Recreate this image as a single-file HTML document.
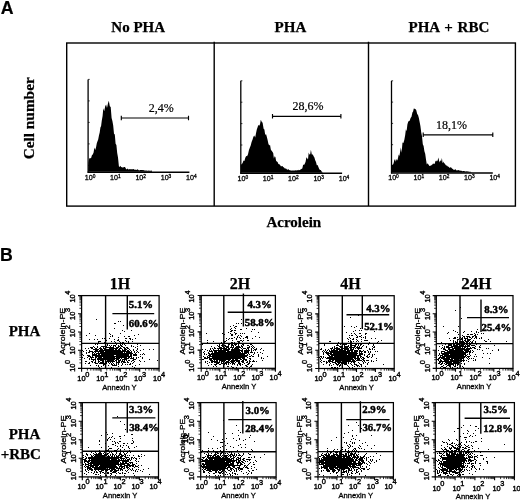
<!DOCTYPE html>
<html><head><meta charset="utf-8"><title>Figure</title>
<style>
html,body{margin:0;padding:0;background:#fff;}
body{width:520px;height:500px;overflow:hidden;}
svg{display:block;opacity:.999;}
.sb{font-family:"Liberation Serif",serif;font-weight:bold;fill:#000;stroke:#000;stroke-width:.25px;}
.pc{font-family:"Liberation Serif",serif;font-weight:bold;fill:#000;stroke:#000;stroke-width:.45px;}
.sr{font-family:"Liberation Serif",serif;fill:#000;stroke:#000;stroke-width:.2px;}
.ab{font-family:"Liberation Sans",sans-serif;font-weight:bold;fill:#000;stroke:#000;stroke-width:.2px;}
.ar{font-family:"Liberation Sans",sans-serif;fill:#000;}
</style></head><body>
<svg width="520" height="500" viewBox="0 0 520 500">
<rect width="520" height="500" fill="#fff"/>
<defs><filter id="b" x="-5%" y="-5%" width="110%" height="110%"><feGaussianBlur stdDeviation="0.38"/></filter></defs>
<text class="ab" x="0.7" y="14" font-size="17.7">A</text>
<text class="sb" x="138.2" y="32.1" font-size="15" text-anchor="middle">No PHA</text>
<text class="sb" x="290.4" y="32.1" font-size="15" text-anchor="middle">PHA</text>
<text class="sb" x="448.9" y="32.1" font-size="15" text-anchor="middle" word-spacing="1.1">PHA + RBC</text>
<text class="sb" font-size="15.3" text-anchor="middle" transform="translate(33.5,118.3) rotate(-90)">Cell number</text>
<text class="sb" x="293.8" y="227.1" font-size="15" text-anchor="middle">Acrolein</text>
<g fill="none" stroke="#000" stroke-width="1.4">
<rect x="66.7" y="43.0" width="448.7" height="163.1"/>
<path d="M214.2 41.8V206.1M368.5 41.8V206.1"/>
</g>
<path d="M88.1 171.8L88.4 162.8L89.3 158.3L90.2 158.3L91.1 158.0L92.0 155.1L92.8 154.4L93.6 152.4L94.4 147.4L95.2 150.1L96.0 147.4L96.8 143.3L97.5 141.2L98.2 139.5L99.0 135.3L99.7 132.5L100.4 127.5L101.1 126.1L101.8 120.6L102.6 116.1L103.3 108.2L104.2 111.2L105.2 106.3L106.1 104.6L107.0 108.0L107.9 103.8L108.8 100.7L109.8 106.3L110.7 106.9L111.6 118.0L112.4 120.9L113.2 125.5L114.0 133.8L114.8 134.4L115.6 143.7L116.4 144.9L117.2 152.9L118.0 157.4L118.9 166.2L119.7 167.0L120.4 165.7L121.2 167.2L122.0 167.1L122.8 167.8L123.5 167.2L124.2 166.9L125.0 167.1L125.8 168.4L126.5 169.5L127.2 168.8L128.0 168.7L128.8 169.7L129.6 169.1L130.4 169.2L131.2 169.3L132.0 169.2L132.8 169.3L133.6 169.0L134.4 169.7L135.2 169.6L136.0 170.0L136.8 169.7L137.6 169.3L138.4 169.9L139.2 170.4L140.0 170.0L140.8 169.9L141.6 169.9L142.4 170.0L143.2 170.2L144.0 170.1L144.8 170.7L145.6 170.4L146.4 170.5L147.2 170.8L148.0 170.8L148.8 170.6L149.6 170.7L150.4 170.8L151.2 170.7L152.0 170.5L152.0 171.8Z" fill="#000"/>
<path d="M88.1 79.4V172.8" fill="none" stroke="#000" stroke-width="1.3"/><path d="M87.6 172.3H189.4" fill="none" stroke="#000" stroke-width="1.5"/>
<path d="M88.1 79.4h1.6M88.1 100.9h1.6M88.1 122.4h1.6M88.1 143.9h1.6M88.1 165.4h1.6" stroke="#000" stroke-width="0.8" fill="none"/>
<text class="ar" x="84.8" y="179.7" font-size="7.4" textLength="10.6" lengthAdjust="spacingAndGlyphs" stroke="#000" stroke-width="0.3">10<tspan dy="-2.0" font-size="5">0</tspan></text>
<text class="ar" x="110.1" y="179.7" font-size="7.4" textLength="10.6" lengthAdjust="spacingAndGlyphs" stroke="#000" stroke-width="0.3">10<tspan dy="-2.0" font-size="5">1</tspan></text>
<text class="ar" x="135.4" y="179.7" font-size="7.4" textLength="10.6" lengthAdjust="spacingAndGlyphs" stroke="#000" stroke-width="0.3">10<tspan dy="-2.0" font-size="5">2</tspan></text>
<text class="ar" x="160.7" y="179.7" font-size="7.4" textLength="10.6" lengthAdjust="spacingAndGlyphs" stroke="#000" stroke-width="0.3">10<tspan dy="-2.0" font-size="5">3</tspan></text>
<text class="ar" x="186.0" y="179.7" font-size="7.4" textLength="10.6" lengthAdjust="spacingAndGlyphs" stroke="#000" stroke-width="0.3">10<tspan dy="-2.0" font-size="5">4</tspan></text>
<path d="M121.3 118.0H188.5M121.3 115.8v4.4M188.5 115.8v4.4" stroke="#000" stroke-width="1.15" fill="none"/>
<text class="sr" x="161.3" y="112.0" font-size="12" text-anchor="middle">2,4%</text>
<path d="M240.8 172.8L240.8 164.5L241.7 164.2L242.6 163.0L243.5 160.4L244.4 160.9L245.3 157.8L246.2 155.9L247.1 156.2L248.0 154.2L248.9 150.3L249.8 147.7L250.7 145.6L251.6 142.0L252.5 139.8L253.4 136.7L254.3 135.6L255.2 137.4L256.0 133.3L256.8 129.4L257.5 127.4L258.3 124.9L259.2 125.7L260.0 124.3L260.8 119.8L261.7 121.7L262.6 122.7L263.6 128.8L264.4 129.5L265.2 134.9L266.0 134.0L266.8 136.7L267.6 140.1L268.4 143.8L269.2 145.4L270.0 144.7L270.8 149.5L271.6 150.8L272.4 151.7L273.2 152.9L273.9 158.4L274.6 156.2L275.4 156.9L276.1 160.8L276.8 161.4L277.6 161.9L278.4 163.9L279.2 164.2L280.0 164.8L280.8 166.2L281.6 166.3L282.4 166.1L283.2 166.9L284.0 167.4L284.8 168.5L285.6 168.4L286.4 168.8L287.1 169.8L287.9 169.4L288.6 169.3L289.4 170.3L290.1 170.1L290.9 170.7L291.6 170.5L292.4 170.5L293.2 170.4L294.0 170.5L294.8 170.6L295.6 170.3L296.4 170.4L297.2 170.0L298.0 170.4L298.8 169.8L299.6 170.3L300.5 169.6L301.4 168.9L302.3 168.5L303.2 164.5L304.0 164.9L304.8 163.8L305.6 161.7L306.4 157.2L307.2 158.3L308.0 159.6L308.7 152.5L309.4 154.4L310.2 154.2L310.9 149.7L311.8 154.6L312.8 154.6L313.6 156.2L314.4 157.4L315.2 160.3L316.0 161.9L316.8 165.2L317.6 165.1L318.4 167.1L319.2 169.0L320.0 169.9L320.8 169.9L321.6 171.4L322.4 171.9L322.4 172.8Z" fill="#000"/>
<path d="M240.8 80.8V173.8" fill="none" stroke="#000" stroke-width="1.3"/><path d="M240.3 173.3H342.1" fill="none" stroke="#000" stroke-width="1.5"/>
<path d="M240.8 80.8h1.6M240.8 102.2h1.6M240.8 123.6h1.6M240.8 145.0h1.6M240.8 166.4h1.6" stroke="#000" stroke-width="0.8" fill="none"/>
<text class="ar" x="237.5" y="180.7" font-size="7.4" textLength="10.6" lengthAdjust="spacingAndGlyphs" stroke="#000" stroke-width="0.3">10<tspan dy="-2.0" font-size="5">0</tspan></text>
<text class="ar" x="262.8" y="180.7" font-size="7.4" textLength="10.6" lengthAdjust="spacingAndGlyphs" stroke="#000" stroke-width="0.3">10<tspan dy="-2.0" font-size="5">1</tspan></text>
<text class="ar" x="288.1" y="180.7" font-size="7.4" textLength="10.6" lengthAdjust="spacingAndGlyphs" stroke="#000" stroke-width="0.3">10<tspan dy="-2.0" font-size="5">2</tspan></text>
<text class="ar" x="313.4" y="180.7" font-size="7.4" textLength="10.6" lengthAdjust="spacingAndGlyphs" stroke="#000" stroke-width="0.3">10<tspan dy="-2.0" font-size="5">3</tspan></text>
<text class="ar" x="338.7" y="180.7" font-size="7.4" textLength="10.6" lengthAdjust="spacingAndGlyphs" stroke="#000" stroke-width="0.3">10<tspan dy="-2.0" font-size="5">4</tspan></text>
<path d="M272.5 116.3H340.9M272.5 114.1v4.4M340.9 114.1v4.4" stroke="#000" stroke-width="1.15" fill="none"/>
<text class="sr" x="308.0" y="109.6" font-size="12" text-anchor="middle">28,6%</text>
<path d="M391.5 172.4L391.3 165.2L392.1 164.5L392.8 165.1L393.6 163.2L394.4 159.8L395.1 159.3L395.8 161.7L396.6 159.1L397.3 160.5L398.0 158.1L398.7 154.6L399.4 156.1L400.2 151.2L400.9 147.4L401.6 152.7L402.5 142.4L403.4 143.1L404.3 140.0L405.2 135.1L405.9 129.3L406.6 131.2L407.4 124.4L408.1 122.0L408.8 121.0L409.7 120.8L410.6 117.9L411.5 116.7L412.4 112.4L413.1 111.6L413.8 108.6L414.6 108.7L415.3 108.9L416.2 110.1L417.2 114.0L418.0 115.0L418.8 117.8L419.6 121.7L420.4 126.1L421.2 132.2L422.0 136.3L422.8 144.2L423.6 146.0L424.4 151.2L425.2 153.8L426.0 159.6L426.8 164.5L427.7 163.3L428.6 164.7L429.5 166.1L430.4 165.9L431.1 164.8L431.8 165.6L432.6 164.0L433.3 163.6L434.0 164.1L434.7 163.7L435.4 161.2L436.2 160.6L436.9 161.5L437.6 160.5L438.5 157.4L439.3 162.6L440.2 160.3L441.1 161.4L441.9 158.0L442.6 163.2L443.4 161.6L444.1 163.5L444.8 163.3L445.6 165.0L446.4 165.4L447.2 165.8L448.0 166.8L448.8 166.8L449.6 167.9L450.4 167.3L451.2 167.4L452.0 168.4L452.8 169.1L453.6 169.8L454.4 169.9L455.2 169.1L456.0 170.0L456.8 170.5L457.6 170.2L458.4 170.1L459.2 170.5L460.0 170.4L460.8 170.8L461.6 170.8L462.4 171.2L463.2 171.1L464.0 171.0L464.8 171.3L465.6 171.4L466.4 171.3L467.2 171.4L468.0 171.3L468.8 171.8L469.6 171.8L470.4 171.7L471.2 171.9L471.2 172.4Z" fill="#000"/>
<path d="M391.5 80.8V173.4" fill="none" stroke="#000" stroke-width="1.3"/><path d="M391.0 172.9H492.8" fill="none" stroke="#000" stroke-width="1.5"/>
<path d="M391.5 80.8h1.6M391.5 102.1h1.6M391.5 123.4h1.6M391.5 144.7h1.6M391.5 166.0h1.6" stroke="#000" stroke-width="0.8" fill="none"/>
<text class="ar" x="388.2" y="180.3" font-size="7.4" textLength="10.6" lengthAdjust="spacingAndGlyphs" stroke="#000" stroke-width="0.3">10<tspan dy="-2.0" font-size="5">0</tspan></text>
<text class="ar" x="413.5" y="180.3" font-size="7.4" textLength="10.6" lengthAdjust="spacingAndGlyphs" stroke="#000" stroke-width="0.3">10<tspan dy="-2.0" font-size="5">1</tspan></text>
<text class="ar" x="438.8" y="180.3" font-size="7.4" textLength="10.6" lengthAdjust="spacingAndGlyphs" stroke="#000" stroke-width="0.3">10<tspan dy="-2.0" font-size="5">2</tspan></text>
<text class="ar" x="464.1" y="180.3" font-size="7.4" textLength="10.6" lengthAdjust="spacingAndGlyphs" stroke="#000" stroke-width="0.3">10<tspan dy="-2.0" font-size="5">3</tspan></text>
<text class="ar" x="489.4" y="180.3" font-size="7.4" textLength="10.6" lengthAdjust="spacingAndGlyphs" stroke="#000" stroke-width="0.3">10<tspan dy="-2.0" font-size="5">4</tspan></text>
<path d="M423.2 134.8H492.8M423.2 132.6v4.4M492.8 132.6v4.4" stroke="#000" stroke-width="1.15" fill="none"/>
<text class="sr" x="451.4" y="129.3" font-size="12" text-anchor="middle">18,1%</text>
<text class="ab" x="0" y="260.9" font-size="17.7">B</text>
<text class="sb" x="120.0" y="288.8" font-size="16" text-anchor="middle">1H</text>
<text class="sb" x="240.0" y="288.8" font-size="16" text-anchor="middle">2H</text>
<text class="sb" x="350.5" y="288.8" font-size="16" text-anchor="middle">4H</text>
<text class="sb" x="476.4" y="288.8" font-size="16" text-anchor="middle" textLength="30.2" lengthAdjust="spacingAndGlyphs">24H</text>
<text class="sb" x="24.5" y="336.2" font-size="15" text-anchor="middle">PHA</text>
<text class="sb" x="24.5" y="438.6" font-size="15" text-anchor="middle">PHA</text>
<text class="sb" x="20.8" y="459.0" font-size="15" text-anchor="middle">+RBC</text>
<path transform="translate(0,.5)" d="M0 0m96 319h1m21 2h1m1 0h1m-7 2h1m0 0h1m7 2h1m-10 3h1m7 2h1m8 0h1m-8 1h1m-36 2h1m19 0h1m10 0h1m-11 1h1m27 0h1m-53 1h1m8 0h1m16 0h1m21 0h1m-25 1h1m1 0h1m11 0h1m3 0h1m0 0h1m-12 1h1m-17 1h1m1 0h1m4 0h1m15 0h1m0 0h1m2 0h1m0 0h1m4 0h1m-47 1h1m4 0h1m2 0h1m16 0h1m3 0h1m11 0h1m1 0h1m-28 1h1m0 0h1m10 0h1m0 0h1m6 0h1m-28 1h1m0 0h1m0 0h1m10 0h1m2 0h1m4 0h1m6 0h1m1 0h1m3 0h1m-35 1h1m5 0h1m0 0h1m9 0h1m4 0h1m1 0h1m0 0h1m4 0h1m-36 1h1m2 0h1m2 0h1m5 0h1m4 0h1m2 0h1m1 0h1m3 0h1m3 0h1m15 0h1m-45 1h1m1 0h1m9 0h1m8 0h1m3 0h1m1 0h1m1 0h1m12 0h1m-31 1h1m1 0h1m1 0h1m1 0h1m0 0h1m0 0h1m2 0h1m1 0h1m0 0h1m3 0h1m5 0h1m8 0h1m-48 1h1m3 0h1m3 0h1m0 0h1m0 0h1m0 0h1m1 0h1m3 0h1m2 0h1m1 0h1m2 0h1m0 0h1m1 0h1m0 0h1m8 0h1m1 0h1m3 0h1m-48 1h1m0 0h1m0 0h1m1 0h1m2 0h1m2 0h1m2 0h1m1 0h1m0 0h1m0 0h1m0 0h1m0 0h1m0 0h1m0 0h1m0 0h1m0 0h1m2 0h1m0 0h1m0 0h1m1 0h1m2 0h1m0 0h1m1 0h1m0 0h1m7 0h1m-51 1h1m2 0h1m2 0h1m0 0h1m2 0h1m0 0h1m2 0h1m0 0h1m0 0h1m1 0h1m0 0h1m0 0h1m3 0h1m0 0h1m0 0h1m0 0h1m0 0h1m0 0h1m0 0h1m0 0h1m0 0h1m1 0h1m0 0h1m0 0h1m2 0h1m0 0h1m1 0h1m0 0h1m8 0h1m-45 1h1m0 0h1m0 0h1m0 0h1m0 0h1m0 0h1m1 0h1m0 0h1m0 0h1m1 0h1m0 0h1m0 0h1m0 0h1m0 0h1m0 0h1m0 0h1m0 0h1m0 0h1m0 0h1m1 0h1m0 0h1m1 0h1m0 0h1m2 0h1m1 0h1m0 0h1m0 0h1m2 0h1m3 0h1m3 0h1m5 0h1m5 0h1m3 0h1m-72 1h1m3 0h1m2 0h1m5 0h1m0 0h1m0 0h1m1 0h1m0 0h1m0 0h1m0 0h1m0 0h1m0 0h1m0 0h1m0 0h1m0 0h1m0 0h1m0 0h1m0 0h1m0 0h1m0 0h1m0 0h1m0 0h1m0 0h1m0 0h1m0 0h1m0 0h1m0 0h1m0 0h1m1 0h1m0 0h1m0 0h1m0 0h1m1 0h1m0 0h1m1 0h1m2 0h1m2 0h1m3 0h1m-58 1h1m5 0h1m0 0h1m0 0h1m0 0h1m1 0h1m0 0h1m0 0h1m0 0h1m0 0h1m0 0h1m0 0h1m0 0h1m0 0h1m0 0h1m1 0h1m0 0h1m0 0h1m0 0h1m0 0h1m0 0h1m0 0h1m0 0h1m0 0h1m0 0h1m0 0h1m0 0h1m0 0h1m0 0h1m0 0h1m0 0h1m0 0h1m0 0h1m0 0h1m0 0h1m0 0h1m0 0h1m0 0h1m0 0h1m0 0h1m1 0h1m2 0h1m2 0h1m-52 1h1m1 0h1m0 0h1m2 0h1m0 0h1m1 0h1m2 0h1m1 0h1m0 0h1m0 0h1m0 0h1m0 0h1m0 0h1m0 0h1m0 0h1m0 0h1m0 0h1m0 0h1m0 0h1m0 0h1m0 0h1m0 0h1m0 0h1m0 0h1m0 0h1m0 0h1m0 0h1m0 0h1m0 0h1m0 0h1m1 0h1m1 0h1m0 0h1m0 0h1m0 0h1m0 0h1m0 0h1m2 0h1m1 0h1m1 0h1m-53 1h1m5 0h1m1 0h1m1 0h1m0 0h1m0 0h1m0 0h1m0 0h1m0 0h1m0 0h1m0 0h1m0 0h1m0 0h1m0 0h1m0 0h1m0 0h1m0 0h1m0 0h1m0 0h1m0 0h1m0 0h1m0 0h1m0 0h1m0 0h1m0 0h1m0 0h1m0 0h1m0 0h1m0 0h1m0 0h1m0 0h1m0 0h1m0 0h1m0 0h1m0 0h1m0 0h1m0 0h1m0 0h1m0 0h1m0 0h1m2 0h1m7 0h1m-62 1h1m9 0h1m0 0h1m0 0h1m0 0h1m0 0h1m1 0h1m0 0h1m1 0h1m0 0h1m0 0h1m0 0h1m0 0h1m0 0h1m0 0h1m0 0h1m0 0h1m0 0h1m0 0h1m0 0h1m0 0h1m0 0h1m0 0h1m0 0h1m0 0h1m0 0h1m0 0h1m0 0h1m0 0h1m0 0h1m0 0h1m0 0h1m0 0h1m0 0h1m0 0h1m0 0h1m1 0h1m0 0h1m1 0h1m0 0h1m0 0h1m0 0h1m3 0h1m1 0h1m1 0h1m-62 1h1m3 0h1m0 0h1m0 0h1m2 0h1m0 0h1m0 0h1m0 0h1m0 0h1m0 0h1m0 0h1m0 0h1m0 0h1m0 0h1m0 0h1m0 0h1m0 0h1m0 0h1m0 0h1m0 0h1m0 0h1m0 0h1m0 0h1m0 0h1m0 0h1m0 0h1m2 0h1m0 0h1m0 0h1m0 0h1m0 0h1m0 0h1m0 0h1m0 0h1m0 0h1m0 0h1m0 0h1m0 0h1m0 0h1m1 0h1m0 0h1m1 0h1m0 0h1m0 0h1m0 0h1m-49 1h1m0 0h1m0 0h1m1 0h1m2 0h1m0 0h1m0 0h1m0 0h1m0 0h1m0 0h1m0 0h1m0 0h1m0 0h1m0 0h1m0 0h1m0 0h1m0 0h1m0 0h1m0 0h1m0 0h1m0 0h1m0 0h1m0 0h1m0 0h1m0 0h1m0 0h1m0 0h1m0 0h1m0 0h1m0 0h1m0 0h1m0 0h1m0 0h1m0 0h1m0 0h1m0 0h1m0 0h1m0 0h1m0 0h1m0 0h1m0 0h1m8 0h1m-59 1h1m4 0h1m2 0h1m0 0h1m0 0h1m0 0h1m1 0h1m0 0h1m1 0h1m0 0h1m0 0h1m0 0h1m1 0h1m0 0h1m0 0h1m0 0h1m0 0h1m0 0h1m0 0h1m0 0h1m0 0h1m0 0h1m0 0h1m0 0h1m1 0h1m0 0h1m0 0h1m0 0h1m0 0h1m0 0h1m0 0h1m0 0h1m0 0h1m0 0h1m0 0h1m1 0h1m0 0h1m1 0h1m1 0h1m2 0h1m1 0h1m3 0h1m-59 1h1m4 0h1m1 0h1m3 0h1m1 0h1m0 0h1m0 0h1m0 0h1m0 0h1m0 0h1m0 0h1m0 0h1m0 0h1m0 0h1m0 0h1m0 0h1m0 0h1m0 0h1m0 0h1m0 0h1m0 0h1m0 0h1m0 0h1m0 0h1m0 0h1m0 0h1m0 0h1m1 0h1m2 0h1m0 0h1m0 0h1m0 0h1m0 0h1m1 0h1m0 0h1m0 0h1m0 0h1m2 0h1m5 0h1m-54 1h1m1 0h1m0 0h1m0 0h1m0 0h1m0 0h1m1 0h1m0 0h1m0 0h1m0 0h1m0 0h1m0 0h1m0 0h1m0 0h1m0 0h1m0 0h1m0 0h1m0 0h1m0 0h1m0 0h1m0 0h1m0 0h1m0 0h1m0 0h1m1 0h1m0 0h1m0 0h1m1 0h1m1 0h1m0 0h1m0 0h1m0 0h1m0 0h1m6 0h1m0 0h1m0 0h1m13 0h1m-57 1h1m1 0h1m2 0h1m1 0h1m0 0h1m0 0h1m0 0h1m1 0h1m1 0h1m0 0h1m0 0h1m0 0h1m0 0h1m0 0h1m0 0h1m1 0h1m0 0h1m1 0h1m0 0h1m0 0h1m1 0h1m1 0h1m1 0h1m1 0h1m0 0h1m2 0h1m0 0h1m5 0h1m17 0h1m-73 1h1m0 0h1m4 0h1m0 0h1m2 0h1m2 0h1m0 0h1m2 0h1m0 0h1m1 0h1m0 0h1m0 0h1m0 0h1m0 0h1m0 0h1m0 0h1m0 0h1m0 0h1m0 0h1m1 0h1m1 0h1m0 0h1m1 0h1m0 0h1m0 0h1m0 0h1m2 0h1m3 0h1m2 0h1m5 0h1m3 0h1m-56 1h1m2 0h1m1 0h1m0 0h1m2 0h1m1 0h1m0 0h1m0 0h1m0 0h1m1 0h1m0 0h1m1 0h1m1 0h1m1 0h1m3 0h1m0 0h1m0 0h1m0 0h1m1 0h1m1 0h1m0 0h1m0 0h1m1 0h1m0 0h1m4 0h1m-49 1h1m2 0h1m0 0h1m5 0h1m0 0h1m0 0h1m1 0h1m0 0h1m0 0h1m0 0h1m0 0h1m0 0h1m0 0h1m0 0h1m2 0h1m1 0h1m1 0h1m2 0h1m1 0h1m3 0h1m7 0h1m1 0h1m-30 1h1m0 0h1m6 0h1m0 0h1m1 0h1m1 0h1m1 0h1m3 0h1m2 0h1m1 0h1m1 0h1m0 0h1m8 0h1m-50 1h1m5 0h1m1 0h1m4 0h1m4 0h1m3 0h1m0 0h1m0 0h1m0 0h1m0 0h1m4 0h1m13 0h1m-38 1h1m2 0h1m16 0h1m13 0h1m-34 1h1m11 0h1m22 0h1" stroke="#000" stroke-width="1.15" filter="url(#b)" fill="none"/>
<g fill="none" stroke="#000" stroke-width="1.25">
<rect x="81.6" y="295.6" width="77.5" height="72.8"/>
<path d="M105.6 295.6V368.4M81.6 343.4H159.1M127.3 295.6V329.6M112.4 313.6H154.2" stroke-width="1.4"/>
<path d="M81.6 368.4h-3.6M81.6 368.4v3.4M81.6 350.2h-3.6M101.0 368.4v3.4M81.6 332.0h-3.6M120.3 368.4v3.4M81.6 313.8h-3.6M139.7 368.4v3.4M81.6 295.6h-3.6M159.1 368.4v3.4" stroke-width="1.1"/>
<path d="M81.6 362.9h-2.2M87.4 368.4v2.2M81.6 359.7h-2.2M90.8 368.4v2.2M81.6 357.4h-2.2M93.3 368.4v2.2M81.6 355.7h-2.2M95.1 368.4v2.2M81.6 354.2h-2.2M96.7 368.4v2.2M81.6 353.0h-2.2M98.0 368.4v2.2M81.6 352.0h-2.2M99.1 368.4v2.2M81.6 351.0h-2.2M100.1 368.4v2.2M81.6 344.7h-2.2M106.8 368.4v2.2M81.6 341.5h-2.2M110.2 368.4v2.2M81.6 339.2h-2.2M112.6 368.4v2.2M81.6 337.5h-2.2M114.5 368.4v2.2M81.6 336.0h-2.2M116.1 368.4v2.2M81.6 334.8h-2.2M117.3 368.4v2.2M81.6 333.8h-2.2M118.5 368.4v2.2M81.6 332.8h-2.2M119.5 368.4v2.2M81.6 326.5h-2.2M126.2 368.4v2.2M81.6 323.3h-2.2M129.6 368.4v2.2M81.6 321.0h-2.2M132.0 368.4v2.2M81.6 319.3h-2.2M133.9 368.4v2.2M81.6 317.8h-2.2M135.4 368.4v2.2M81.6 316.6h-2.2M136.7 368.4v2.2M81.6 315.6h-2.2M137.8 368.4v2.2M81.6 314.6h-2.2M138.8 368.4v2.2M81.6 308.3h-2.2M145.6 368.4v2.2M81.6 305.1h-2.2M149.0 368.4v2.2M81.6 302.8h-2.2M151.4 368.4v2.2M81.6 301.1h-2.2M153.3 368.4v2.2M81.6 299.6h-2.2M154.8 368.4v2.2M81.6 298.4h-2.2M156.1 368.4v2.2M81.6 297.4h-2.2M157.2 368.4v2.2M81.6 296.4h-2.2M158.2 368.4v2.2" stroke-width="0.8"/>
</g>
<text class="ar" x="77.3" y="381.2" font-size="7.4" stroke="#000" stroke-width="0.4">10<tspan dy="-4.6" dx="-0.3">0</tspan></text>
<text class="ar" font-size="7.4" stroke="#000" stroke-width="0.4" transform="translate(74.8,371.8) rotate(-90)">10<tspan dy="-4.6" dx="-0.3">0</tspan></text>
<text class="ar" x="96.2" y="381.2" font-size="7.4" stroke="#000" stroke-width="0.4">10<tspan dy="-4.6" dx="-0.3">1</tspan></text>
<text class="ar" font-size="7.4" stroke="#000" stroke-width="0.4" transform="translate(74.8,354.5) rotate(-90)">10<tspan dy="-4.6" dx="-0.3">1</tspan></text>
<text class="ar" x="115.2" y="381.2" font-size="7.4" stroke="#000" stroke-width="0.4">10<tspan dy="-4.6" dx="-0.3">2</tspan></text>
<text class="ar" font-size="7.4" stroke="#000" stroke-width="0.4" transform="translate(74.8,337.2) rotate(-90)">10<tspan dy="-4.6" dx="-0.3">2</tspan></text>
<text class="ar" x="134.1" y="381.2" font-size="7.4" stroke="#000" stroke-width="0.4">10<tspan dy="-4.6" dx="-0.3">3</tspan></text>
<text class="ar" font-size="7.4" stroke="#000" stroke-width="0.4" transform="translate(74.8,319.9) rotate(-90)">10<tspan dy="-4.6" dx="-0.3">3</tspan></text>
<text class="ar" x="153.1" y="381.2" font-size="7.4" stroke="#000" stroke-width="0.4">10<tspan dy="-4.6" dx="-0.3">4</tspan></text>
<text class="ar" font-size="7.4" stroke="#000" stroke-width="0.4" transform="translate(74.8,302.6) rotate(-90)">10<tspan dy="-4.6" dx="-0.3">4</tspan></text>
<text class="ar" x="119.4" y="390.2" font-size="7.6" text-anchor="middle" stroke="#000" stroke-width="0.3">Annexin Y</text>
<text class="ar" font-size="7.6" text-anchor="middle" stroke="#000" stroke-width="0.3" textLength="47" lengthAdjust="spacingAndGlyphs" transform="translate(65.4,331.2) rotate(-90)">Acrolein-PE</text>
<text class="pc" x="141.0" y="308.1" font-size="10.8" text-anchor="middle">5.1%</text>
<text class="pc" x="143.6" y="327.0" font-size="10.8" text-anchor="middle">60.6%</text>
<path transform="translate(0,.5)" d="M0 0m241 319h1m-6 4h1m1 0h1m2 0h1m13 1h1m-23 1h1m9 0h1m-14 1h1m4 0h1m0 0h1m-3 1h1m-4 1h1m3 0h1m10 0h1m-17 1h1m9 0h1m0 0h1m10 0h1m1 0h1m-24 1h1m0 0h1m1 0h1m0 0h1m-6 1h1m0 0h1m19 0h1m-24 1h1m5 0h1m23 0h1m-53 1h1m15 0h1m7 0h1m4 0h1m0 0h1m3 0h1m1 0h1m1 0h1m-21 1h1m6 0h1m0 0h1m2 0h1m-5 1h1m0 0h1m5 0h1m1 0h1m-4 1h1m3 0h1m4 0h1m0 0h1m7 0h1m-22 1h1m2 0h1m1 0h1m5 0h1m0 0h1m0 0h1m11 0h1m-34 1h1m2 0h1m1 0h1m0 0h1m3 0h1m3 0h1m2 0h1m3 0h1m4 0h1m-25 1h1m7 0h1m-30 1h1m15 0h1m2 0h1m5 0h1m7 0h1m0 0h1m1 0h1m3 0h1m0 0h1m-36 1h1m10 0h1m0 0h1m11 0h1m0 0h1m0 0h1m2 0h1m-36 1h1m13 0h1m2 0h1m6 0h1m0 0h1m1 0h1m3 0h1m0 0h1m-30 1h1m2 0h1m1 0h1m7 0h1m3 0h1m4 0h1m0 0h1m3 0h1m21 0h1m-58 1h1m16 0h1m2 0h1m5 0h1m0 0h1m1 0h1m0 0h1m1 0h1m0 0h1m0 0h1m1 0h1m3 0h1m0 0h1m6 0h1m0 0h1m-35 1h1m1 0h1m1 0h1m0 0h1m1 0h1m0 0h1m2 0h1m2 0h1m0 0h1m0 0h1m1 0h1m2 0h1m2 0h1m1 0h1m3 0h1m0 0h1m3 0h1m-42 1h1m6 0h1m0 0h1m2 0h1m0 0h1m1 0h1m0 0h1m0 0h1m0 0h1m2 0h1m1 0h1m2 0h1m0 0h1m0 0h1m0 0h1m1 0h1m0 0h1m6 0h1m1 0h1m1 0h1m-40 1h1m4 0h1m0 0h1m0 0h1m2 0h1m1 0h1m0 0h1m0 0h1m1 0h1m0 0h1m0 0h1m0 0h1m1 0h1m0 0h1m0 0h1m0 0h1m0 0h1m0 0h1m1 0h1m4 0h1m0 0h1m0 0h1m2 0h1m1 0h1m-45 1h1m1 0h1m1 0h1m0 0h1m1 0h1m0 0h1m0 0h1m0 0h1m0 0h1m0 0h1m0 0h1m0 0h1m0 0h1m0 0h1m1 0h1m0 0h1m2 0h1m1 0h1m0 0h1m0 0h1m0 0h1m0 0h1m2 0h1m1 0h1m0 0h1m0 0h1m1 0h1m0 0h1m2 0h1m1 0h1m2 0h1m4 0h1m-60 1h1m2 0h1m4 0h1m2 0h1m4 0h1m1 0h1m0 0h1m2 0h1m0 0h1m0 0h1m0 0h1m0 0h1m0 0h1m1 0h1m0 0h1m0 0h1m0 0h1m0 0h1m0 0h1m0 0h1m0 0h1m0 0h1m2 0h1m3 0h1m1 0h1m2 0h1m2 0h1m0 0h1m0 0h1m3 0h1m-54 1h1m1 0h1m1 0h1m1 0h1m0 0h1m0 0h1m0 0h1m0 0h1m0 0h1m0 0h1m0 0h1m0 0h1m0 0h1m0 0h1m0 0h1m0 0h1m0 0h1m0 0h1m0 0h1m2 0h1m0 0h1m0 0h1m0 0h1m0 0h1m0 0h1m0 0h1m0 0h1m0 0h1m0 0h1m0 0h1m0 0h1m1 0h1m0 0h1m0 0h1m0 0h1m0 0h1m0 0h1m1 0h1m1 0h1m1 0h1m7 0h1m-60 1h1m4 0h1m0 0h1m0 0h1m0 0h1m1 0h1m0 0h1m0 0h1m1 0h1m0 0h1m0 0h1m0 0h1m0 0h1m0 0h1m0 0h1m0 0h1m1 0h1m0 0h1m0 0h1m0 0h1m0 0h1m0 0h1m0 0h1m0 0h1m0 0h1m0 0h1m0 0h1m0 0h1m0 0h1m1 0h1m0 0h1m1 0h1m0 0h1m0 0h1m0 0h1m0 0h1m2 0h1m-49 1h1m4 0h1m3 0h1m1 0h1m0 0h1m0 0h1m0 0h1m0 0h1m0 0h1m0 0h1m0 0h1m0 0h1m0 0h1m0 0h1m0 0h1m0 0h1m0 0h1m0 0h1m0 0h1m0 0h1m0 0h1m0 0h1m0 0h1m0 0h1m0 0h1m0 0h1m0 0h1m0 0h1m0 0h1m0 0h1m1 0h1m1 0h1m0 0h1m0 0h1m0 0h1m0 0h1m1 0h1m0 0h1m0 0h1m1 0h1m2 0h1m2 0h1m-57 1h1m3 0h1m0 0h1m1 0h1m0 0h1m0 0h1m0 0h1m0 0h1m0 0h1m0 0h1m0 0h1m0 0h1m0 0h1m0 0h1m0 0h1m0 0h1m0 0h1m0 0h1m0 0h1m0 0h1m0 0h1m0 0h1m0 0h1m0 0h1m0 0h1m0 0h1m0 0h1m0 0h1m0 0h1m0 0h1m0 0h1m0 0h1m0 0h1m0 0h1m0 0h1m0 0h1m0 0h1m0 0h1m0 0h1m1 0h1m5 0h1m7 0h1m-59 1h1m1 0h1m2 0h1m0 0h1m0 0h1m0 0h1m0 0h1m0 0h1m0 0h1m0 0h1m0 0h1m0 0h1m0 0h1m0 0h1m0 0h1m0 0h1m0 0h1m0 0h1m0 0h1m0 0h1m0 0h1m0 0h1m0 0h1m0 0h1m0 0h1m0 0h1m0 0h1m0 0h1m0 0h1m0 0h1m0 0h1m0 0h1m0 0h1m0 0h1m0 0h1m0 0h1m0 0h1m0 0h1m2 0h1m1 0h1m3 0h1m4 0h1m-51 1h1m0 0h1m0 0h1m1 0h1m0 0h1m0 0h1m0 0h1m0 0h1m0 0h1m0 0h1m0 0h1m0 0h1m0 0h1m0 0h1m0 0h1m0 0h1m0 0h1m0 0h1m0 0h1m0 0h1m0 0h1m0 0h1m0 0h1m0 0h1m0 0h1m0 0h1m0 0h1m0 0h1m0 0h1m0 0h1m0 0h1m0 0h1m0 0h1m0 0h1m0 0h1m0 0h1m0 0h1m0 0h1m0 0h1m3 0h1m6 0h1m-56 1h1m3 0h1m1 0h1m0 0h1m0 0h1m0 0h1m0 0h1m0 0h1m0 0h1m0 0h1m0 0h1m0 0h1m0 0h1m0 0h1m0 0h1m0 0h1m0 0h1m0 0h1m0 0h1m0 0h1m0 0h1m0 0h1m0 0h1m0 0h1m0 0h1m0 0h1m0 0h1m0 0h1m0 0h1m0 0h1m0 0h1m0 0h1m0 0h1m0 0h1m0 0h1m0 0h1m0 0h1m0 0h1m0 0h1m0 0h1m2 0h1m0 0h1m1 0h1m0 0h1m4 0h1m8 0h1m-64 1h1m0 0h1m1 0h1m0 0h1m0 0h1m2 0h1m0 0h1m0 0h1m0 0h1m0 0h1m0 0h1m0 0h1m0 0h1m0 0h1m0 0h1m0 0h1m0 0h1m0 0h1m0 0h1m0 0h1m0 0h1m0 0h1m0 0h1m0 0h1m0 0h1m0 0h1m0 0h1m0 0h1m0 0h1m0 0h1m0 0h1m0 0h1m0 0h1m0 0h1m0 0h1m0 0h1m0 0h1m0 0h1m2 0h1m13 0h1m-58 1h1m0 0h1m0 0h1m0 0h1m1 0h1m0 0h1m0 0h1m0 0h1m0 0h1m0 0h1m0 0h1m0 0h1m0 0h1m0 0h1m0 0h1m0 0h1m0 0h1m0 0h1m0 0h1m0 0h1m0 0h1m0 0h1m0 0h1m0 0h1m0 0h1m0 0h1m0 0h1m0 0h1m0 0h1m0 0h1m0 0h1m0 0h1m0 0h1m0 0h1m0 0h1m0 0h1m1 0h1m0 0h1m0 0h1m4 0h1m0 0h1m10 0h1m1 0h1m-62 1h1m0 0h1m5 0h1m0 0h1m0 0h1m1 0h1m0 0h1m0 0h1m0 0h1m0 0h1m0 0h1m0 0h1m0 0h1m0 0h1m0 0h1m0 0h1m0 0h1m0 0h1m0 0h1m0 0h1m0 0h1m0 0h1m0 0h1m1 0h1m0 0h1m1 0h1m0 0h1m0 0h1m2 0h1m0 0h1m1 0h1m0 0h1m0 0h1m0 0h1m3 0h1m-41 1h1m0 0h1m0 0h1m1 0h1m1 0h1m0 0h1m1 0h1m0 0h1m0 0h1m0 0h1m0 0h1m0 0h1m0 0h1m2 0h1m0 0h1m1 0h1m0 0h1m0 0h1m0 0h1m0 0h1m0 0h1m0 0h1m0 0h1m0 0h1m2 0h1m0 0h1m1 0h1m0 0h1m2 0h1m3 0h1m8 0h1m-58 1h1m1 0h1m3 0h1m0 0h1m0 0h1m0 0h1m0 0h1m0 0h1m0 0h1m1 0h1m1 0h1m0 0h1m1 0h1m1 0h1m0 0h1m0 0h1m1 0h1m0 0h1m0 0h1m0 0h1m0 0h1m1 0h1m0 0h1m0 0h1m0 0h1m1 0h1m0 0h1m0 0h1m3 0h1m1 0h1m0 0h1m1 0h1m0 0h1m0 0h1m1 0h1m-52 1h1m3 0h1m1 0h1m0 0h1m1 0h1m0 0h1m0 0h1m0 0h1m0 0h1m0 0h1m1 0h1m1 0h1m1 0h1m0 0h1m0 0h1m0 0h1m0 0h1m1 0h1m0 0h1m0 0h1m1 0h1m2 0h1m0 0h1m2 0h1m0 0h1m2 0h1m0 0h1m1 0h1m-43 1h1m8 0h1m0 0h1m0 0h1m2 0h1m0 0h1m1 0h1m0 0h1m0 0h1m1 0h1m1 0h1m1 0h1m0 0h1m0 0h1m3 0h1m0 0h1m0 0h1m3 0h1m3 0h1m0 0h1m-39 1h1m2 0h1m0 0h1m0 0h1m2 0h1m0 0h1m3 0h1m1 0h1m1 0h1m3 0h1m1 0h1m2 0h1m1 0h1m0 0h1m1 0h1m4 0h1m0 0h1m3 0h1m-45 1h1m6 0h1m7 0h1m13 0h1m2 0h1m4 0h1m0 0h1m4 0h1m-39 1h1m2 0h1m6 0h1m3 0h1m0 0h1m2 0h1m14 0h1m0 0h1m2 0h1m0 0h1m-20 1h1m0 0h1m2 0h1m5 0h1m6 0h1" stroke="#000" stroke-width="1.15" filter="url(#b)" fill="none"/>
<g fill="none" stroke="#000" stroke-width="1.25">
<rect x="201.2" y="295.5" width="74.2" height="72.8"/>
<path d="M223.8 295.5V368.3M201.2 343.4H275.4M243.4 293.5V326.5M227.7 312.2H271.5" stroke-width="1.4"/>
<path d="M201.2 368.3h-3.6M201.2 368.3v3.4M201.2 350.1h-3.6M219.8 368.3v3.4M201.2 331.9h-3.6M238.3 368.3v3.4M201.2 313.7h-3.6M256.9 368.3v3.4M201.2 295.5h-3.6M275.4 368.3v3.4" stroke-width="1.1"/>
<path d="M201.2 362.8h-2.2M206.8 368.3v2.2M201.2 359.6h-2.2M210.1 368.3v2.2M201.2 357.3h-2.2M212.4 368.3v2.2M201.2 355.6h-2.2M214.2 368.3v2.2M201.2 354.1h-2.2M215.6 368.3v2.2M201.2 352.9h-2.2M216.9 368.3v2.2M201.2 351.9h-2.2M218.0 368.3v2.2M201.2 350.9h-2.2M218.9 368.3v2.2M201.2 344.6h-2.2M225.3 368.3v2.2M201.2 341.4h-2.2M228.6 368.3v2.2M201.2 339.1h-2.2M230.9 368.3v2.2M201.2 337.4h-2.2M232.7 368.3v2.2M201.2 335.9h-2.2M234.2 368.3v2.2M201.2 334.7h-2.2M235.4 368.3v2.2M201.2 333.7h-2.2M236.5 368.3v2.2M201.2 332.7h-2.2M237.5 368.3v2.2M201.2 326.4h-2.2M243.9 368.3v2.2M201.2 323.2h-2.2M247.2 368.3v2.2M201.2 320.9h-2.2M249.5 368.3v2.2M201.2 319.2h-2.2M251.3 368.3v2.2M201.2 317.7h-2.2M252.7 368.3v2.2M201.2 316.5h-2.2M254.0 368.3v2.2M201.2 315.5h-2.2M255.1 368.3v2.2M201.2 314.5h-2.2M256.0 368.3v2.2M201.2 308.2h-2.2M262.4 368.3v2.2M201.2 305.0h-2.2M265.7 368.3v2.2M201.2 302.7h-2.2M268.0 368.3v2.2M201.2 301.0h-2.2M269.8 368.3v2.2M201.2 299.5h-2.2M271.3 368.3v2.2M201.2 298.3h-2.2M272.5 368.3v2.2M201.2 297.3h-2.2M273.6 368.3v2.2M201.2 296.3h-2.2M274.6 368.3v2.2" stroke-width="0.8"/>
</g>
<text class="ar" x="196.9" y="380.3" font-size="7.4" stroke="#000" stroke-width="0.4">10<tspan dy="-4.6" dx="-0.3">0</tspan></text>
<text class="ar" font-size="7.4" stroke="#000" stroke-width="0.4" transform="translate(194.4,371.7) rotate(-90)">10<tspan dy="-4.6" dx="-0.3">0</tspan></text>
<text class="ar" x="215.1" y="380.3" font-size="7.4" stroke="#000" stroke-width="0.4">10<tspan dy="-4.6" dx="-0.3">1</tspan></text>
<text class="ar" font-size="7.4" stroke="#000" stroke-width="0.4" transform="translate(194.4,354.4) rotate(-90)">10<tspan dy="-4.6" dx="-0.3">1</tspan></text>
<text class="ar" x="233.2" y="380.3" font-size="7.4" stroke="#000" stroke-width="0.4">10<tspan dy="-4.6" dx="-0.3">2</tspan></text>
<text class="ar" font-size="7.4" stroke="#000" stroke-width="0.4" transform="translate(194.4,337.1) rotate(-90)">10<tspan dy="-4.6" dx="-0.3">2</tspan></text>
<text class="ar" x="251.4" y="380.3" font-size="7.4" stroke="#000" stroke-width="0.4">10<tspan dy="-4.6" dx="-0.3">3</tspan></text>
<text class="ar" font-size="7.4" stroke="#000" stroke-width="0.4" transform="translate(194.4,319.8) rotate(-90)">10<tspan dy="-4.6" dx="-0.3">3</tspan></text>
<text class="ar" x="269.6" y="380.3" font-size="7.4" stroke="#000" stroke-width="0.4">10<tspan dy="-4.6" dx="-0.3">4</tspan></text>
<text class="ar" font-size="7.4" stroke="#000" stroke-width="0.4" transform="translate(194.4,302.5) rotate(-90)">10<tspan dy="-4.6" dx="-0.3">4</tspan></text>
<text class="ar" x="239.0" y="389.3" font-size="7.6" text-anchor="middle" stroke="#000" stroke-width="0.3">Annexin Y</text>
<text class="ar" font-size="7.6" text-anchor="middle" stroke="#000" stroke-width="0.3" textLength="47" lengthAdjust="spacingAndGlyphs" transform="translate(185.0,331.1) rotate(-90)">Acrolein-PE</text>
<text class="pc" x="259.6" y="308.0" font-size="10.8" text-anchor="middle">4.3%</text>
<text class="pc" x="259.7" y="326.1" font-size="10.8" text-anchor="middle">58.8%</text>
<path transform="translate(0,.5)" d="M0 0m358 315h1m-9 2h1m-7 9h1m6 0h1m4 0h1m-3 1h1m5 1h1m-6 2h1m3 0h1m1 0h1m-9 1h1m20 0h1m-29 1h1m4 1h1m2 0h1m4 0h1m0 0h1m4 0h1m0 0h1m-12 1h1m9 0h1m-17 1h1m1 0h1m0 0h1m3 0h1m4 0h1m-5 1h1m1 0h1m0 0h1m4 0h1m-17 1h1m6 0h1m0 0h1m3 0h1m1 0h1m1 0h1m-19 1h1m2 0h1m2 0h1m11 0h1m5 0h1m3 0h1m-28 1h1m3 0h1m0 0h1m2 0h1m4 0h1m-20 1h1m7 0h1m6 0h1m6 0h1m0 0h1m0 0h1m0 0h1m13 0h1m-53 1h1m0 0h1m17 0h1m1 0h1m0 0h1m1 0h1m2 0h1m1 0h1m2 0h1m16 0h1m-41 1h1m11 0h1m0 0h1m17 0h1m7 0h1m-50 1h1m4 0h1m4 0h1m0 0h1m2 0h1m4 0h1m0 0h1m0 0h1m0 0h1m5 0h1m1 0h1m0 0h1m3 0h1m1 0h1m1 0h1m10 0h1m-55 1h1m12 0h1m2 0h1m2 0h1m0 0h1m0 0h1m0 0h1m3 0h1m0 0h1m3 0h1m0 0h1m1 0h1m1 0h1m0 0h1m6 0h1m4 0h1m-50 1h1m11 0h1m0 0h1m0 0h1m3 0h1m1 0h1m3 0h1m1 0h1m0 0h1m0 0h1m0 0h1m0 0h1m0 0h1m2 0h1m1 0h1m2 0h1m9 0h1m-40 1h1m4 0h1m0 0h1m0 0h1m2 0h1m0 0h1m0 0h1m0 0h1m0 0h1m1 0h1m0 0h1m2 0h1m0 0h1m1 0h1m1 0h1m2 0h1m3 0h1m5 0h1m1 0h1m-43 1h1m1 0h1m1 0h1m0 0h1m2 0h1m0 0h1m2 0h1m0 0h1m0 0h1m0 0h1m1 0h1m0 0h1m0 0h1m0 0h1m0 0h1m0 0h1m1 0h1m0 0h1m0 0h1m0 0h1m1 0h1m4 0h1m6 0h1m0 0h1m-54 1h1m8 0h1m0 0h1m0 0h1m1 0h1m0 0h1m0 0h1m0 0h1m0 0h1m0 0h1m1 0h1m0 0h1m0 0h1m0 0h1m0 0h1m0 0h1m0 0h1m0 0h1m1 0h1m0 0h1m1 0h1m1 0h1m1 0h1m0 0h1m0 0h1m0 0h1m0 0h1m7 0h1m2 0h1m-53 1h1m0 0h1m3 0h1m2 0h1m2 0h1m1 0h1m0 0h1m1 0h1m0 0h1m0 0h1m0 0h1m0 0h1m0 0h1m0 0h1m1 0h1m0 0h1m0 0h1m0 0h1m0 0h1m1 0h1m0 0h1m0 0h1m0 0h1m4 0h1m10 0h1m0 0h1m1 0h1m1 0h1m-52 1h1m1 0h1m1 0h1m1 0h1m1 0h1m0 0h1m0 0h1m0 0h1m0 0h1m0 0h1m0 0h1m1 0h1m0 0h1m0 0h1m0 0h1m0 0h1m0 0h1m0 0h1m1 0h1m0 0h1m0 0h1m0 0h1m0 0h1m0 0h1m1 0h1m0 0h1m0 0h1m0 0h1m1 0h1m0 0h1m2 0h1m3 0h1m-46 1h1m1 0h1m1 0h1m2 0h1m0 0h1m0 0h1m0 0h1m0 0h1m0 0h1m0 0h1m0 0h1m0 0h1m0 0h1m0 0h1m0 0h1m0 0h1m0 0h1m0 0h1m0 0h1m0 0h1m0 0h1m0 0h1m0 0h1m0 0h1m1 0h1m0 0h1m1 0h1m0 0h1m0 0h1m0 0h1m1 0h1m0 0h1m0 0h1m0 0h1m1 0h1m0 0h1m2 0h1m1 0h1m4 0h1m1 0h1m-55 1h1m1 0h1m0 0h1m0 0h1m0 0h1m1 0h1m0 0h1m0 0h1m0 0h1m0 0h1m0 0h1m0 0h1m0 0h1m0 0h1m0 0h1m0 0h1m0 0h1m0 0h1m0 0h1m0 0h1m0 0h1m0 0h1m0 0h1m0 0h1m0 0h1m0 0h1m0 0h1m0 0h1m0 0h1m0 0h1m0 0h1m0 0h1m2 0h1m1 0h1m2 0h1m0 0h1m2 0h1m1 0h1m-48 1h1m2 0h1m0 0h1m0 0h1m0 0h1m0 0h1m0 0h1m1 0h1m0 0h1m0 0h1m0 0h1m0 0h1m0 0h1m0 0h1m0 0h1m0 0h1m0 0h1m0 0h1m0 0h1m0 0h1m0 0h1m0 0h1m0 0h1m0 0h1m0 0h1m0 0h1m0 0h1m0 0h1m0 0h1m0 0h1m0 0h1m0 0h1m1 0h1m0 0h1m0 0h1m0 0h1m6 0h1m-47 1h1m3 0h1m0 0h1m1 0h1m0 0h1m0 0h1m0 0h1m0 0h1m0 0h1m0 0h1m0 0h1m0 0h1m0 0h1m0 0h1m0 0h1m0 0h1m0 0h1m0 0h1m0 0h1m0 0h1m1 0h1m0 0h1m0 0h1m0 0h1m0 0h1m0 0h1m0 0h1m0 0h1m0 0h1m2 0h1m0 0h1m0 0h1m0 0h1m1 0h1m3 0h1m0 0h1m2 0h1m1 0h1m-47 1h1m0 0h1m1 0h1m0 0h1m0 0h1m0 0h1m0 0h1m0 0h1m0 0h1m0 0h1m0 0h1m0 0h1m0 0h1m0 0h1m0 0h1m0 0h1m0 0h1m0 0h1m0 0h1m0 0h1m0 0h1m0 0h1m0 0h1m0 0h1m0 0h1m0 0h1m0 0h1m0 0h1m0 0h1m0 0h1m0 0h1m0 0h1m3 0h1m2 0h1m4 0h1m-53 1h1m0 0h1m1 0h1m5 0h1m0 0h1m0 0h1m0 0h1m1 0h1m0 0h1m0 0h1m0 0h1m0 0h1m0 0h1m0 0h1m0 0h1m0 0h1m0 0h1m0 0h1m0 0h1m0 0h1m0 0h1m0 0h1m0 0h1m0 0h1m0 0h1m0 0h1m0 0h1m0 0h1m0 0h1m1 0h1m0 0h1m1 0h1m0 0h1m4 0h1m0 0h1m1 0h1m2 0h1m-54 1h1m1 0h1m1 0h1m1 0h1m1 0h1m0 0h1m0 0h1m0 0h1m0 0h1m0 0h1m0 0h1m0 0h1m0 0h1m0 0h1m0 0h1m0 0h1m0 0h1m0 0h1m0 0h1m0 0h1m0 0h1m0 0h1m0 0h1m0 0h1m0 0h1m0 0h1m0 0h1m0 0h1m0 0h1m0 0h1m0 0h1m0 0h1m0 0h1m1 0h1m0 0h1m1 0h1m1 0h1m0 0h1m3 0h1m0 0h1m2 0h1m-52 1h1m1 0h1m3 0h1m0 0h1m0 0h1m0 0h1m0 0h1m0 0h1m0 0h1m0 0h1m0 0h1m0 0h1m0 0h1m0 0h1m0 0h1m0 0h1m0 0h1m0 0h1m0 0h1m0 0h1m0 0h1m0 0h1m0 0h1m0 0h1m0 0h1m0 0h1m0 0h1m0 0h1m0 0h1m1 0h1m0 0h1m0 0h1m0 0h1m0 0h1m0 0h1m1 0h1m1 0h1m0 0h1m11 0h1m-57 1h1m8 0h1m0 0h1m0 0h1m0 0h1m0 0h1m0 0h1m0 0h1m0 0h1m0 0h1m0 0h1m0 0h1m0 0h1m0 0h1m0 0h1m0 0h1m0 0h1m0 0h1m0 0h1m0 0h1m0 0h1m0 0h1m0 0h1m0 0h1m0 0h1m0 0h1m1 0h1m1 0h1m0 0h1m0 0h1m2 0h1m0 0h1m-43 1h1m6 0h1m0 0h1m0 0h1m1 0h1m0 0h1m1 0h1m0 0h1m0 0h1m0 0h1m0 0h1m0 0h1m0 0h1m0 0h1m0 0h1m0 0h1m0 0h1m0 0h1m0 0h1m0 0h1m0 0h1m0 0h1m1 0h1m0 0h1m0 0h1m1 0h1m0 0h1m0 0h1m0 0h1m0 0h1m0 0h1m1 0h1m0 0h1m1 0h1m0 0h1m0 0h1m2 0h1m4 0h1m-57 1h1m2 0h1m0 0h1m1 0h1m1 0h1m0 0h1m0 0h1m0 0h1m0 0h1m2 0h1m0 0h1m0 0h1m0 0h1m0 0h1m0 0h1m1 0h1m0 0h1m0 0h1m0 0h1m0 0h1m0 0h1m0 0h1m0 0h1m0 0h1m0 0h1m0 0h1m0 0h1m0 0h1m0 0h1m6 0h1m1 0h1m6 0h1m1 0h1m-53 1h1m4 0h1m0 0h1m1 0h1m2 0h1m0 0h1m0 0h1m0 0h1m1 0h1m0 0h1m0 0h1m0 0h1m0 0h1m0 0h1m0 0h1m0 0h1m0 0h1m0 0h1m1 0h1m2 0h1m1 0h1m0 0h1m3 0h1m4 0h1m1 0h1m2 0h1m-43 1h1m3 0h1m4 0h1m0 0h1m1 0h1m0 0h1m1 0h1m0 0h1m0 0h1m0 0h1m0 0h1m0 0h1m1 0h1m1 0h1m3 0h1m4 0h1m3 0h1m3 0h1m-45 1h1m5 0h1m3 0h1m2 0h1m0 0h1m0 0h1m1 0h1m3 0h1m0 0h1m0 0h1m4 0h1m2 0h1m0 0h1m0 0h1m3 0h1m0 0h1m5 0h1m15 0h1m-55 1h1m1 0h1m5 0h1m1 0h1m0 0h1m6 0h1m4 0h1m3 0h1m0 0h1m0 0h1m2 0h1m-23 1h1m8 0h1m5 0h1m2 0h1m1 0h1m1 0h1m3 0h1m-35 1h1m0 0h1m1 0h1m0 0h1m1 0h1m11 0h1m2 0h1" stroke="#000" stroke-width="1.15" filter="url(#b)" fill="none"/>
<g fill="none" stroke="#000" stroke-width="1.25">
<rect x="318.8" y="295.7" width="75.4" height="72.8"/>
<path d="M342.3 295.7V368.5M318.8 343.4H394.2M362.3 295.7V329.0M346.5 314.7H389.2" stroke-width="1.4"/>
<path d="M318.8 368.5h-3.6M318.8 368.5v3.4M318.8 350.3h-3.6M337.7 368.5v3.4M318.8 332.1h-3.6M356.5 368.5v3.4M318.8 313.9h-3.6M375.4 368.5v3.4M318.8 295.7h-3.6M394.2 368.5v3.4" stroke-width="1.1"/>
<path d="M318.8 363.0h-2.2M324.5 368.5v2.2M318.8 359.8h-2.2M327.8 368.5v2.2M318.8 357.5h-2.2M330.1 368.5v2.2M318.8 355.8h-2.2M332.0 368.5v2.2M318.8 354.3h-2.2M333.5 368.5v2.2M318.8 353.1h-2.2M334.7 368.5v2.2M318.8 352.1h-2.2M335.8 368.5v2.2M318.8 351.1h-2.2M336.8 368.5v2.2M318.8 344.8h-2.2M343.3 368.5v2.2M318.8 341.6h-2.2M346.6 368.5v2.2M318.8 339.3h-2.2M349.0 368.5v2.2M318.8 337.6h-2.2M350.8 368.5v2.2M318.8 336.1h-2.2M352.3 368.5v2.2M318.8 334.9h-2.2M353.6 368.5v2.2M318.8 333.9h-2.2M354.7 368.5v2.2M318.8 332.9h-2.2M355.6 368.5v2.2M318.8 326.6h-2.2M362.2 368.5v2.2M318.8 323.4h-2.2M365.5 368.5v2.2M318.8 321.1h-2.2M367.8 368.5v2.2M318.8 319.4h-2.2M369.7 368.5v2.2M318.8 317.9h-2.2M371.2 368.5v2.2M318.8 316.7h-2.2M372.4 368.5v2.2M318.8 315.7h-2.2M373.5 368.5v2.2M318.8 314.7h-2.2M374.5 368.5v2.2M318.8 308.4h-2.2M381.0 368.5v2.2M318.8 305.2h-2.2M384.3 368.5v2.2M318.8 302.9h-2.2M386.7 368.5v2.2M318.8 301.2h-2.2M388.5 368.5v2.2M318.8 299.7h-2.2M390.0 368.5v2.2M318.8 298.5h-2.2M391.3 368.5v2.2M318.8 297.5h-2.2M392.4 368.5v2.2M318.8 296.5h-2.2M393.3 368.5v2.2" stroke-width="0.8"/>
</g>
<text class="ar" x="314.5" y="381.1" font-size="7.4" stroke="#000" stroke-width="0.4">10<tspan dy="-4.6" dx="-0.3">0</tspan></text>
<text class="ar" font-size="7.4" stroke="#000" stroke-width="0.4" transform="translate(312.0,371.9) rotate(-90)">10<tspan dy="-4.6" dx="-0.3">0</tspan></text>
<text class="ar" x="333.0" y="381.1" font-size="7.4" stroke="#000" stroke-width="0.4">10<tspan dy="-4.6" dx="-0.3">1</tspan></text>
<text class="ar" font-size="7.4" stroke="#000" stroke-width="0.4" transform="translate(312.0,354.6) rotate(-90)">10<tspan dy="-4.6" dx="-0.3">1</tspan></text>
<text class="ar" x="351.5" y="381.1" font-size="7.4" stroke="#000" stroke-width="0.4">10<tspan dy="-4.6" dx="-0.3">2</tspan></text>
<text class="ar" font-size="7.4" stroke="#000" stroke-width="0.4" transform="translate(312.0,337.3) rotate(-90)">10<tspan dy="-4.6" dx="-0.3">2</tspan></text>
<text class="ar" x="370.0" y="381.1" font-size="7.4" stroke="#000" stroke-width="0.4">10<tspan dy="-4.6" dx="-0.3">3</tspan></text>
<text class="ar" font-size="7.4" stroke="#000" stroke-width="0.4" transform="translate(312.0,320.0) rotate(-90)">10<tspan dy="-4.6" dx="-0.3">3</tspan></text>
<text class="ar" x="388.5" y="381.1" font-size="7.4" stroke="#000" stroke-width="0.4">10<tspan dy="-4.6" dx="-0.3">4</tspan></text>
<text class="ar" font-size="7.4" stroke="#000" stroke-width="0.4" transform="translate(312.0,302.7) rotate(-90)">10<tspan dy="-4.6" dx="-0.3">4</tspan></text>
<text class="ar" x="356.6" y="390.3" font-size="7.6" text-anchor="middle" stroke="#000" stroke-width="0.3">Annexin Y</text>
<text class="ar" font-size="7.6" text-anchor="middle" stroke="#000" stroke-width="0.3" textLength="47" lengthAdjust="spacingAndGlyphs" transform="translate(302.6,331.3) rotate(-90)">Acrolein-PE</text>
<text class="pc" x="378.3" y="311.6" font-size="10.8" text-anchor="middle">4.3%</text>
<text class="pc" x="379.0" y="329.9" font-size="10.8" text-anchor="middle">52.1%</text>
<path transform="translate(0,.5)" d="M0 0m460 307h1m-6 3h1m5 8h1m-19 8h1m14 0h1m18 3h1m-25 1h1m1 1h1m8 0h1m6 0h1m4 0h1m-29 1h1m8 0h1m5 0h1m12 0h1m1 0h1m-32 1h1m26 0h1m6 0h1m1 0h1m-26 1h1m8 0h1m0 0h1m1 0h1m0 0h1m0 0h1m2 0h1m1 0h1m-16 1h1m11 0h1m0 0h1m-13 1h1m0 0h1m1 0h1m0 0h1m0 0h1m0 0h1m2 0h1m0 0h1m1 0h1m0 0h1m-23 1h1m0 0h1m1 0h1m2 0h1m1 0h1m1 0h1m2 0h1m1 0h1m0 0h1m1 0h1m2 0h1m0 0h1m4 0h1m-33 1h1m3 0h1m0 0h1m0 0h1m3 0h1m1 0h1m0 0h1m1 0h1m0 0h1m0 0h1m0 0h1m3 0h1m2 0h1m1 0h1m2 0h1m1 0h1m-25 1h1m0 0h1m1 0h1m0 0h1m0 0h1m2 0h1m1 0h1m0 0h1m0 0h1m0 0h1m17 0h1m-39 1h1m2 0h1m3 0h1m4 0h1m1 0h1m0 0h1m1 0h1m0 0h1m0 0h1m3 0h1m10 0h1m-32 1h1m1 0h1m1 0h1m1 0h1m0 0h1m0 0h1m0 0h1m0 0h1m1 0h1m0 0h1m0 0h1m0 0h1m1 0h1m1 0h1m2 0h1m9 0h1m0 0h1m3 0h1m15 0h1m-66 1h1m11 0h1m1 0h1m0 0h1m0 0h1m1 0h1m0 0h1m0 0h1m0 0h1m0 0h1m0 0h1m1 0h1m0 0h1m1 0h1m1 0h1m0 0h1m2 0h1m-31 1h1m4 0h1m2 0h1m1 0h1m1 0h1m0 0h1m0 0h1m1 0h1m0 0h1m0 0h1m1 0h1m0 0h1m0 0h1m8 0h1m1 0h1m2 0h1m16 0h1m-54 1h1m2 0h1m0 0h1m0 0h1m0 0h1m1 0h1m0 0h1m1 0h1m0 0h1m0 0h1m0 0h1m1 0h1m0 0h1m0 0h1m0 0h1m1 0h1m0 0h1m1 0h1m0 0h1m5 0h1m-35 1h1m5 0h1m0 0h1m0 0h1m0 0h1m1 0h1m0 0h1m0 0h1m0 0h1m0 0h1m1 0h1m0 0h1m0 0h1m0 0h1m0 0h1m1 0h1m1 0h1m0 0h1m0 0h1m1 0h1m0 0h1m0 0h1m0 0h1m5 0h1m13 0h1m-56 1h1m4 0h1m1 0h1m0 0h1m0 0h1m2 0h1m0 0h1m0 0h1m0 0h1m0 0h1m0 0h1m0 0h1m0 0h1m0 0h1m0 0h1m0 0h1m0 0h1m0 0h1m0 0h1m0 0h1m0 0h1m0 0h1m0 0h1m0 0h1m5 0h1m3 0h1m-38 1h1m1 0h1m1 0h1m0 0h1m0 0h1m0 0h1m0 0h1m0 0h1m0 0h1m1 0h1m0 0h1m0 0h1m0 0h1m0 0h1m0 0h1m0 0h1m1 0h1m1 0h1m0 0h1m1 0h1m2 0h1m1 0h1m0 0h1m0 0h1m4 0h1m0 0h1m-40 1h1m1 0h1m0 0h1m3 0h1m0 0h1m2 0h1m0 0h1m0 0h1m0 0h1m0 0h1m0 0h1m0 0h1m0 0h1m0 0h1m0 0h1m0 0h1m0 0h1m0 0h1m1 0h1m0 0h1m0 0h1m0 0h1m0 0h1m0 0h1m2 0h1m0 0h1m10 0h1m1 0h1m-46 1h1m0 0h1m0 0h1m2 0h1m0 0h1m0 0h1m0 0h1m0 0h1m0 0h1m1 0h1m0 0h1m0 0h1m0 0h1m0 0h1m0 0h1m0 0h1m0 0h1m0 0h1m0 0h1m0 0h1m0 0h1m0 0h1m0 0h1m0 0h1m7 0h1m1 0h1m18 0h1m-61 1h1m6 0h1m0 0h1m0 0h1m1 0h1m0 0h1m0 0h1m0 0h1m0 0h1m0 0h1m0 0h1m0 0h1m0 0h1m0 0h1m0 0h1m0 0h1m0 0h1m0 0h1m1 0h1m0 0h1m0 0h1m0 0h1m0 0h1m1 0h1m1 0h1m9 0h1m9 0h1m5 0h1m-58 1h1m0 0h1m0 0h1m0 0h1m2 0h1m0 0h1m0 0h1m0 0h1m0 0h1m0 0h1m0 0h1m0 0h1m0 0h1m0 0h1m0 0h1m0 0h1m0 0h1m0 0h1m0 0h1m0 0h1m0 0h1m1 0h1m0 0h1m0 0h1m0 0h1m0 0h1m0 0h1m2 0h1m-33 1h1m2 0h1m0 0h1m0 0h1m0 0h1m0 0h1m0 0h1m0 0h1m0 0h1m0 0h1m0 0h1m0 0h1m0 0h1m0 0h1m0 0h1m0 0h1m0 0h1m0 0h1m0 0h1m0 0h1m0 0h1m0 0h1m0 0h1m0 0h1m0 0h1m1 0h1m0 0h1m1 0h1m-34 1h1m1 0h1m0 0h1m0 0h1m0 0h1m0 0h1m0 0h1m0 0h1m0 0h1m0 0h1m0 0h1m0 0h1m0 0h1m0 0h1m0 0h1m0 0h1m0 0h1m0 0h1m0 0h1m0 0h1m0 0h1m0 0h1m0 0h1m0 0h1m0 0h1m0 0h1m3 0h1m13 0h1m3 0h1m2 0h1m-52 1h1m2 0h1m0 0h1m0 0h1m0 0h1m0 0h1m0 0h1m0 0h1m1 0h1m0 0h1m0 0h1m0 0h1m0 0h1m0 0h1m0 0h1m0 0h1m0 0h1m0 0h1m0 0h1m0 0h1m0 0h1m0 0h1m0 0h1m0 0h1m1 0h1m1 0h1m5 0h1m-38 1h1m1 0h1m0 0h1m0 0h1m1 0h1m0 0h1m0 0h1m0 0h1m0 0h1m0 0h1m0 0h1m0 0h1m0 0h1m0 0h1m0 0h1m0 0h1m0 0h1m0 0h1m0 0h1m0 0h1m0 0h1m0 0h1m0 0h1m0 0h1m1 0h1m0 0h1m3 0h1m-31 1h1m1 0h1m0 0h1m0 0h1m0 0h1m0 0h1m0 0h1m0 0h1m0 0h1m0 0h1m0 0h1m0 0h1m0 0h1m0 0h1m0 0h1m0 0h1m0 0h1m0 0h1m0 0h1m0 0h1m0 0h1m0 0h1m0 0h1m0 0h1m0 0h1m1 0h1m0 0h1m0 0h1m4 0h1m1 0h1m-38 1h1m0 0h1m0 0h1m0 0h1m0 0h1m0 0h1m1 0h1m0 0h1m0 0h1m0 0h1m0 0h1m0 0h1m0 0h1m0 0h1m0 0h1m0 0h1m0 0h1m0 0h1m0 0h1m0 0h1m0 0h1m0 0h1m0 0h1m0 0h1m0 0h1m1 0h1m1 0h1m13 0h1m-45 1h1m0 0h1m1 0h1m0 0h1m0 0h1m0 0h1m0 0h1m0 0h1m0 0h1m0 0h1m0 0h1m1 0h1m0 0h1m0 0h1m0 0h1m0 0h1m0 0h1m0 0h1m0 0h1m0 0h1m0 0h1m0 0h1m0 0h1m0 0h1m3 0h1m1 0h1m1 0h1m1 0h1m15 0h1m-53 1h1m0 0h1m1 0h1m2 0h1m0 0h1m0 0h1m0 0h1m0 0h1m0 0h1m0 0h1m0 0h1m0 0h1m0 0h1m1 0h1m0 0h1m0 0h1m0 0h1m0 0h1m1 0h1m0 0h1m1 0h1m4 0h1m6 0h1m-38 1h1m1 0h1m0 0h1m2 0h1m0 0h1m0 0h1m0 0h1m0 0h1m1 0h1m0 0h1m0 0h1m0 0h1m0 0h1m0 0h1m0 0h1m0 0h1m0 0h1m0 0h1m0 0h1m0 0h1m0 0h1m0 0h1m0 0h1m1 0h1m6 0h1m1 0h1m-37 1h1m0 0h1m0 0h1m0 0h1m0 0h1m0 0h1m0 0h1m0 0h1m0 0h1m0 0h1m0 0h1m0 0h1m0 0h1m0 0h1m0 0h1m0 0h1m0 0h1m0 0h1m0 0h1m0 0h1m1 0h1m0 0h1m1 0h1m4 0h1m-30 1h1m0 0h1m1 0h1m2 0h1m0 0h1m0 0h1m0 0h1m0 0h1m0 0h1m0 0h1m1 0h1m0 0h1m0 0h1m0 0h1m0 0h1m0 0h1m0 0h1m-22 1h1m0 0h1m1 0h1m0 0h1m1 0h1m1 0h1m0 0h1m0 0h1m0 0h1m0 0h1m0 0h1m0 0h1m0 0h1m0 0h1m0 0h1m0 0h1m0 0h1m0 0h1m2 0h1m2 0h1m24 0h1m-50 1h1m0 0h1m3 0h1m0 0h1m1 0h1m0 0h1m0 0h1m0 0h1m0 0h1m0 0h1m1 0h1m1 0h1m0 0h1m5 0h1m-22 1h1m3 0h1m0 0h1m0 0h1m0 0h1m2 0h1m1 0h1m1 0h1m2 0h1m-20 1h1m0 0h1m3 0h1m2 0h1m0 0h1m3 0h1m0 0h1m4 0h1m1 0h1m-23 1h1m2 0h1m0 0h1m0 0h1m4 0h1m1 0h1m4 0h1m5 0h1" stroke="#000" stroke-width="1.15" filter="url(#b)" fill="none"/>
<g fill="none" stroke="#000" stroke-width="1.25">
<rect x="436.3" y="295.6" width="76.7" height="72.8"/>
<path d="M460.0 295.6V368.4M436.3 343.6H513.0M481.0 299.4V332.0M467.0 317.6H509.0" stroke-width="1.4"/>
<path d="M436.3 368.4h-3.6M436.3 368.4v3.4M436.3 350.2h-3.6M455.5 368.4v3.4M436.3 332.0h-3.6M474.7 368.4v3.4M436.3 313.8h-3.6M493.8 368.4v3.4M436.3 295.6h-3.6M513.0 368.4v3.4" stroke-width="1.1"/>
<path d="M436.3 362.9h-2.2M442.1 368.4v2.2M436.3 359.7h-2.2M445.4 368.4v2.2M436.3 357.4h-2.2M447.8 368.4v2.2M436.3 355.7h-2.2M449.7 368.4v2.2M436.3 354.2h-2.2M451.2 368.4v2.2M436.3 353.0h-2.2M452.5 368.4v2.2M436.3 352.0h-2.2M453.6 368.4v2.2M436.3 351.0h-2.2M454.6 368.4v2.2M436.3 344.7h-2.2M461.2 368.4v2.2M436.3 341.5h-2.2M464.6 368.4v2.2M436.3 339.2h-2.2M467.0 368.4v2.2M436.3 337.5h-2.2M468.9 368.4v2.2M436.3 336.0h-2.2M470.4 368.4v2.2M436.3 334.8h-2.2M471.7 368.4v2.2M436.3 333.8h-2.2M472.8 368.4v2.2M436.3 332.8h-2.2M473.8 368.4v2.2M436.3 326.5h-2.2M480.4 368.4v2.2M436.3 323.3h-2.2M483.8 368.4v2.2M436.3 321.0h-2.2M486.2 368.4v2.2M436.3 319.3h-2.2M488.1 368.4v2.2M436.3 317.8h-2.2M489.6 368.4v2.2M436.3 316.6h-2.2M490.9 368.4v2.2M436.3 315.6h-2.2M492.0 368.4v2.2M436.3 314.6h-2.2M492.9 368.4v2.2M436.3 308.3h-2.2M499.6 368.4v2.2M436.3 305.1h-2.2M503.0 368.4v2.2M436.3 302.8h-2.2M505.4 368.4v2.2M436.3 301.1h-2.2M507.2 368.4v2.2M436.3 299.6h-2.2M508.7 368.4v2.2M436.3 298.4h-2.2M510.0 368.4v2.2M436.3 297.4h-2.2M511.1 368.4v2.2M436.3 296.4h-2.2M512.1 368.4v2.2" stroke-width="0.8"/>
</g>
<text class="ar" x="431.5" y="380.4" font-size="7.4" stroke="#000" stroke-width="0.4">10<tspan dy="-4.6" dx="-0.3">0</tspan></text>
<text class="ar" font-size="7.4" stroke="#000" stroke-width="0.4" transform="translate(429.5,372.2) rotate(-90)">10<tspan dy="-4.6" dx="-0.3">0</tspan></text>
<text class="ar" x="450.5" y="380.4" font-size="7.4" stroke="#000" stroke-width="0.4">10<tspan dy="-4.6" dx="-0.3">1</tspan></text>
<text class="ar" font-size="7.4" stroke="#000" stroke-width="0.4" transform="translate(429.5,354.8) rotate(-90)">10<tspan dy="-4.6" dx="-0.3">1</tspan></text>
<text class="ar" x="469.5" y="380.4" font-size="7.4" stroke="#000" stroke-width="0.4">10<tspan dy="-4.6" dx="-0.3">2</tspan></text>
<text class="ar" font-size="7.4" stroke="#000" stroke-width="0.4" transform="translate(429.5,337.4) rotate(-90)">10<tspan dy="-4.6" dx="-0.3">2</tspan></text>
<text class="ar" x="488.5" y="380.4" font-size="7.4" stroke="#000" stroke-width="0.4">10<tspan dy="-4.6" dx="-0.3">3</tspan></text>
<text class="ar" font-size="7.4" stroke="#000" stroke-width="0.4" transform="translate(429.5,320.0) rotate(-90)">10<tspan dy="-4.6" dx="-0.3">3</tspan></text>
<text class="ar" x="507.5" y="380.4" font-size="7.4" stroke="#000" stroke-width="0.4">10<tspan dy="-4.6" dx="-0.3">4</tspan></text>
<text class="ar" font-size="7.4" stroke="#000" stroke-width="0.4" transform="translate(429.5,302.6) rotate(-90)">10<tspan dy="-4.6" dx="-0.3">4</tspan></text>
<text class="ar" x="474.1" y="389.2" font-size="7.6" text-anchor="middle" stroke="#000" stroke-width="0.3">Annexin Y</text>
<text class="ar" font-size="7.6" text-anchor="middle" stroke="#000" stroke-width="0.3" textLength="47" lengthAdjust="spacingAndGlyphs" transform="translate(420.1,331.2) rotate(-90)">Acrolein-PE</text>
<text class="pc" x="496.5" y="313.1" font-size="10.8" text-anchor="middle">8.3%</text>
<text class="pc" x="496.4" y="330.6" font-size="10.8" text-anchor="middle">25.4%</text>
<path transform="translate(0,.5)" d="M0 0m117 416h1m2 5h1m3 3h1m0 5h1m-20 3h1m5 1h1m-6 1h1m23 0h1m0 0h1m-32 1h1m22 0h1m-13 1h1m6 0h1m0 0h1m-12 1h1m1 0h1m-4 1h1m5 0h1m5 0h1m11 0h1m-26 1h1m2 0h1m-12 1h1m7 0h1m24 0h1m-34 1h1m12 0h1m1 0h1m4 0h1m0 0h1m12 0h1m-19 1h1m1 0h1m15 0h1m-29 1h1m9 0h1m2 0h1m4 0h1m0 0h1m2 0h1m3 0h1m0 0h1m-34 1h1m12 0h1m0 0h1m1 1h1m4 0h1m2 0h1m2 0h1m-19 1h1m8 0h1m2 0h1m7 0h1m7 0h1m-49 1h1m12 0h1m20 0h1m5 0h1m5 0h1m-26 1h1m0 0h1m0 0h1m6 0h1m10 0h1m-22 1h1m8 0h1m2 0h1m3 0h1m-26 1h1m5 0h1m0 0h1m0 0h1m0 0h1m5 0h1m0 0h1m0 0h1m3 0h1m8 0h1m-44 1h1m4 0h1m3 0h1m1 0h1m10 0h1m1 0h1m0 0h1m2 0h1m1 0h1m2 0h1m0 0h1m3 0h1m7 0h1m0 0h1m-43 1h1m3 0h1m3 0h1m0 0h1m3 0h1m4 0h1m1 0h1m4 0h1m3 0h1m2 0h1m3 0h1m2 0h1m-45 1h1m6 0h1m2 0h1m1 0h1m0 0h1m0 0h1m0 0h1m1 0h1m1 0h1m1 0h1m0 0h1m3 0h1m3 0h1m2 0h1m0 0h1m3 0h1m1 0h1m-41 1h1m0 0h1m2 0h1m3 0h1m0 0h1m0 0h1m0 0h1m0 0h1m0 0h1m0 0h1m0 0h1m2 0h1m0 0h1m0 0h1m0 0h1m2 0h1m1 0h1m0 0h1m1 0h1m3 0h1m0 0h1m0 0h1m2 0h1m0 0h1m15 0h1m-59 1h1m3 0h1m3 0h1m1 0h1m1 0h1m0 0h1m0 0h1m0 0h1m0 0h1m0 0h1m0 0h1m0 0h1m0 0h1m0 0h1m0 0h1m0 0h1m1 0h1m1 0h1m1 0h1m1 0h1m1 0h1m1 0h1m0 0h1m1 0h1m0 0h1m0 0h1m1 0h1m1 0h1m1 0h1m3 0h1m4 0h1m5 0h1m-60 1h1m5 0h1m0 0h1m1 0h1m0 0h1m0 0h1m0 0h1m0 0h1m0 0h1m0 0h1m0 0h1m0 0h1m0 0h1m0 0h1m2 0h1m0 0h1m0 0h1m1 0h1m0 0h1m1 0h1m1 0h1m0 0h1m0 0h1m1 0h1m0 0h1m0 0h1m1 0h1m0 0h1m12 0h1m0 0h1m1 0h1m-59 1h1m2 0h1m1 0h1m0 0h1m0 0h1m0 0h1m0 0h1m0 0h1m0 0h1m0 0h1m0 0h1m0 0h1m0 0h1m0 0h1m0 0h1m0 0h1m0 0h1m0 0h1m0 0h1m0 0h1m0 0h1m0 0h1m0 0h1m0 0h1m0 0h1m0 0h1m0 0h1m0 0h1m0 0h1m0 0h1m0 0h1m0 0h1m0 0h1m0 0h1m0 0h1m0 0h1m3 0h1m0 0h1m0 0h1m0 0h1m2 0h1m0 0h1m1 0h1m-50 1h1m0 0h1m1 0h1m0 0h1m0 0h1m0 0h1m0 0h1m0 0h1m0 0h1m0 0h1m0 0h1m0 0h1m0 0h1m0 0h1m0 0h1m0 0h1m0 0h1m0 0h1m0 0h1m0 0h1m0 0h1m0 0h1m0 0h1m0 0h1m0 0h1m0 0h1m0 0h1m0 0h1m0 0h1m0 0h1m0 0h1m0 0h1m0 0h1m1 0h1m0 0h1m0 0h1m0 0h1m0 0h1m1 0h1m2 0h1m1 0h1m1 0h1m1 0h1m0 0h1m2 0h1m-57 1h1m0 0h1m0 0h1m3 0h1m1 0h1m0 0h1m0 0h1m0 0h1m0 0h1m0 0h1m0 0h1m0 0h1m0 0h1m0 0h1m0 0h1m0 0h1m0 0h1m0 0h1m0 0h1m0 0h1m0 0h1m0 0h1m0 0h1m1 0h1m0 0h1m0 0h1m0 0h1m0 0h1m0 0h1m1 0h1m0 0h1m1 0h1m1 0h1m1 0h1m1 0h1m0 0h1m0 0h1m1 0h1m4 0h1m-53 1h1m0 0h1m0 0h1m1 0h1m0 0h1m0 0h1m0 0h1m0 0h1m0 0h1m0 0h1m0 0h1m0 0h1m0 0h1m0 0h1m0 0h1m0 0h1m0 0h1m0 0h1m0 0h1m0 0h1m0 0h1m0 0h1m0 0h1m0 0h1m0 0h1m0 0h1m0 0h1m0 0h1m0 0h1m0 0h1m0 0h1m0 0h1m0 0h1m0 0h1m0 0h1m0 0h1m0 0h1m0 0h1m0 0h1m0 0h1m0 0h1m0 0h1m0 0h1m0 0h1m1 0h1m4 0h1m-52 1h1m0 0h1m0 0h1m0 0h1m0 0h1m0 0h1m1 0h1m0 0h1m0 0h1m0 0h1m0 0h1m0 0h1m0 0h1m0 0h1m0 0h1m0 0h1m0 0h1m0 0h1m0 0h1m0 0h1m0 0h1m0 0h1m0 0h1m0 0h1m0 0h1m0 0h1m0 0h1m0 0h1m0 0h1m0 0h1m0 0h1m0 0h1m0 0h1m0 0h1m0 0h1m2 0h1m0 0h1m0 0h1m0 0h1m0 0h1m0 0h1m0 0h1m7 0h1m1 0h1m-55 1h1m2 0h1m0 0h1m1 0h1m0 0h1m0 0h1m0 0h1m0 0h1m0 0h1m0 0h1m0 0h1m0 0h1m0 0h1m0 0h1m0 0h1m0 0h1m0 0h1m0 0h1m0 0h1m0 0h1m0 0h1m0 0h1m0 0h1m0 0h1m0 0h1m0 0h1m0 0h1m0 0h1m0 0h1m0 0h1m0 0h1m0 0h1m1 0h1m1 0h1m0 0h1m1 0h1m0 0h1m2 0h1m0 0h1m0 0h1m0 0h1m-48 1h1m2 0h1m0 0h1m0 0h1m0 0h1m0 0h1m0 0h1m0 0h1m0 0h1m0 0h1m0 0h1m0 0h1m0 0h1m0 0h1m0 0h1m0 0h1m0 0h1m0 0h1m0 0h1m0 0h1m0 0h1m0 0h1m0 0h1m0 0h1m0 0h1m0 0h1m0 0h1m0 0h1m0 0h1m0 0h1m0 0h1m0 0h1m1 0h1m0 0h1m0 0h1m0 0h1m0 0h1m0 0h1m0 0h1m0 0h1m0 0h1m1 0h1m1 0h1m3 0h1m-54 1h1m1 0h1m0 0h1m0 0h1m0 0h1m1 0h1m0 0h1m1 0h1m0 0h1m0 0h1m0 0h1m0 0h1m0 0h1m0 0h1m0 0h1m0 0h1m0 0h1m0 0h1m0 0h1m0 0h1m0 0h1m0 0h1m0 0h1m0 0h1m0 0h1m0 0h1m0 0h1m0 0h1m0 0h1m0 0h1m0 0h1m0 0h1m0 0h1m0 0h1m0 0h1m0 0h1m0 0h1m0 0h1m0 0h1m2 0h1m0 0h1m0 0h1m2 0h1m0 0h1m0 0h1m-50 1h1m2 0h1m0 0h1m0 0h1m0 0h1m0 0h1m0 0h1m0 0h1m0 0h1m0 0h1m0 0h1m0 0h1m1 0h1m0 0h1m0 0h1m0 0h1m0 0h1m0 0h1m0 0h1m0 0h1m0 0h1m0 0h1m0 0h1m0 0h1m0 0h1m0 0h1m0 0h1m0 0h1m2 0h1m1 0h1m0 0h1m2 0h1m0 0h1m0 0h1m0 0h1m0 0h1m0 0h1m0 0h1m0 0h1m0 0h1m0 0h1m1 0h1m2 0h1m2 0h1m-58 1h1m1 0h1m0 0h1m0 0h1m1 0h1m0 0h1m0 0h1m0 0h1m1 0h1m0 0h1m0 0h1m1 0h1m0 0h1m0 0h1m0 0h1m0 0h1m0 0h1m0 0h1m0 0h1m0 0h1m0 0h1m0 0h1m0 0h1m0 0h1m0 0h1m0 0h1m0 0h1m0 0h1m0 0h1m2 0h1m0 0h1m0 0h1m0 0h1m0 0h1m0 0h1m1 0h1m0 0h1m1 0h1m0 0h1m1 0h1m0 0h1m1 0h1m0 0h1m0 0h1m-53 1h1m1 0h1m0 0h1m0 0h1m0 0h1m1 0h1m0 0h1m0 0h1m0 0h1m0 0h1m0 0h1m0 0h1m0 0h1m0 0h1m0 0h1m0 0h1m0 0h1m0 0h1m0 0h1m0 0h1m0 0h1m0 0h1m0 0h1m0 0h1m0 0h1m0 0h1m0 0h1m0 0h1m0 0h1m0 0h1m0 0h1m1 0h1m1 0h1m0 0h1m1 0h1m1 0h1m0 0h1m0 0h1m5 0h1m3 0h1m-52 1h1m0 0h1m0 0h1m0 0h1m0 0h1m2 0h1m0 0h1m0 0h1m0 0h1m0 0h1m0 0h1m0 0h1m0 0h1m0 0h1m0 0h1m0 0h1m0 0h1m1 0h1m1 0h1m0 0h1m0 0h1m0 0h1m0 0h1m0 0h1m1 0h1m0 0h1m0 0h1m0 0h1m0 0h1m0 0h1m1 0h1m0 0h1m2 0h1m1 0h1m2 0h1m15 0h1m-64 1h1m1 0h1m1 0h1m0 0h1m0 0h1m0 0h1m1 0h1m0 0h1m0 0h1m0 0h1m0 0h1m0 0h1m0 0h1m0 0h1m0 0h1m0 0h1m0 0h1m0 0h1m0 0h1m0 0h1m0 0h1m0 0h1m1 0h1m0 0h1m0 0h1m0 0h1m0 0h1m2 0h1m1 0h1m0 0h1m0 0h1m5 0h1m1 0h1m1 0h1m3 0h1m1 0h1m4 0h1m-59 1h1m2 0h1m2 0h1m0 0h1m2 0h1m2 0h1m2 0h1m0 0h1m0 0h1m1 0h1m0 0h1m0 0h1m2 0h1m0 0h1m0 0h1m1 0h1m0 0h1m0 0h1m0 0h1m0 0h1m1 0h1m1 0h1m2 0h1m1 0h1m3 0h1m1 0h1m1 0h1m4 0h1m-55 1h1m7 0h1m1 0h1m2 0h1m0 0h1m0 0h1m4 0h1m3 0h1m0 0h1m1 0h1m0 0h1m0 0h1m0 0h1m9 0h1m8 0h1m1 0h1m4 0h1m-55 1h1m2 0h1m2 0h1m1 0h1m0 0h1m2 0h1m1 0h1m0 0h1m3 0h1m0 0h1m3 0h1m0 0h1m0 0h1m0 0h1m2 0h1m3 0h1m5 0h1m-45 1h1m8 0h1m6 0h1m3 0h1m2 0h1m0 0h1m1 0h1m0 0h1m4 0h1m2 0h1m0 0h1m1 0h1m1 0h1m0 0h1m7 0h1m-48 1h1m8 0h1m0 0h1m1 0h1m12 0h1m37 0h1m-50 1h1m4 0h1m0 0h1m3 0h1m4 0h1m8 0h1m9 0h1" stroke="#000" stroke-width="1.15" filter="url(#b)" fill="none"/>
<g fill="none" stroke="#000" stroke-width="1.25">
<rect x="82.3" y="402.6" width="76.2" height="74.3"/>
<path d="M105.9 402.6V476.9M82.3 451.2H158.5M127.3 402.6V432.7M112.3 417.9H155.4" stroke-width="1.4"/>
<path d="M82.3 476.9h-3.6M82.3 476.9v3.4M82.3 458.3h-3.6M101.3 476.9v3.4M82.3 439.8h-3.6M120.4 476.9v3.4M82.3 421.2h-3.6M139.4 476.9v3.4M82.3 402.6h-3.6M158.5 476.9v3.4" stroke-width="1.1"/>
<path d="M82.3 471.3h-2.2M88.0 476.9v2.2M82.3 468.0h-2.2M91.4 476.9v2.2M82.3 465.7h-2.2M93.8 476.9v2.2M82.3 463.9h-2.2M95.6 476.9v2.2M82.3 462.4h-2.2M97.1 476.9v2.2M82.3 461.2h-2.2M98.4 476.9v2.2M82.3 460.1h-2.2M99.5 476.9v2.2M82.3 459.2h-2.2M100.5 476.9v2.2M82.3 452.7h-2.2M107.1 476.9v2.2M82.3 449.5h-2.2M110.4 476.9v2.2M82.3 447.1h-2.2M112.8 476.9v2.2M82.3 445.3h-2.2M114.7 476.9v2.2M82.3 443.9h-2.2M116.2 476.9v2.2M82.3 442.6h-2.2M117.4 476.9v2.2M82.3 441.6h-2.2M118.6 476.9v2.2M82.3 440.6h-2.2M119.5 476.9v2.2M82.3 434.2h-2.2M126.1 476.9v2.2M82.3 430.9h-2.2M129.5 476.9v2.2M82.3 428.6h-2.2M131.9 476.9v2.2M82.3 426.8h-2.2M133.7 476.9v2.2M82.3 425.3h-2.2M135.2 476.9v2.2M82.3 424.1h-2.2M136.5 476.9v2.2M82.3 423.0h-2.2M137.6 476.9v2.2M82.3 422.0h-2.2M138.6 476.9v2.2M82.3 415.6h-2.2M145.2 476.9v2.2M82.3 412.3h-2.2M148.5 476.9v2.2M82.3 410.0h-2.2M150.9 476.9v2.2M82.3 408.2h-2.2M152.8 476.9v2.2M82.3 406.7h-2.2M154.3 476.9v2.2M82.3 405.5h-2.2M155.5 476.9v2.2M82.3 404.4h-2.2M156.7 476.9v2.2M82.3 403.4h-2.2M157.6 476.9v2.2" stroke-width="0.8"/>
</g>
<text class="ar" x="77.5" y="488.8" font-size="7.4" stroke="#000" stroke-width="0.4">10<tspan dy="-4.6" dx="-0.3">0</tspan></text>
<text class="ar" font-size="7.4" stroke="#000" stroke-width="0.4" transform="translate(75.5,480.2) rotate(-90)">10<tspan dy="-4.6" dx="-0.3">0</tspan></text>
<text class="ar" x="95.5" y="488.8" font-size="7.4" stroke="#000" stroke-width="0.4">10<tspan dy="-4.6" dx="-0.3">1</tspan></text>
<text class="ar" font-size="7.4" stroke="#000" stroke-width="0.4" transform="translate(75.5,462.6) rotate(-90)">10<tspan dy="-4.6" dx="-0.3">1</tspan></text>
<text class="ar" x="113.5" y="488.8" font-size="7.4" stroke="#000" stroke-width="0.4">10<tspan dy="-4.6" dx="-0.3">2</tspan></text>
<text class="ar" font-size="7.4" stroke="#000" stroke-width="0.4" transform="translate(75.5,444.9) rotate(-90)">10<tspan dy="-4.6" dx="-0.3">2</tspan></text>
<text class="ar" x="131.5" y="488.8" font-size="7.4" stroke="#000" stroke-width="0.4">10<tspan dy="-4.6" dx="-0.3">3</tspan></text>
<text class="ar" font-size="7.4" stroke="#000" stroke-width="0.4" transform="translate(75.5,427.2) rotate(-90)">10<tspan dy="-4.6" dx="-0.3">3</tspan></text>
<text class="ar" x="149.5" y="488.8" font-size="7.4" stroke="#000" stroke-width="0.4">10<tspan dy="-4.6" dx="-0.3">4</tspan></text>
<text class="ar" font-size="7.4" stroke="#000" stroke-width="0.4" transform="translate(75.5,409.6) rotate(-90)">10<tspan dy="-4.6" dx="-0.3">4</tspan></text>
<text class="ar" x="120.1" y="497.9" font-size="7.6" text-anchor="middle" stroke="#000" stroke-width="0.3">Annexin Y</text>
<text class="ar" font-size="7.6" text-anchor="middle" stroke="#000" stroke-width="0.3" textLength="48" lengthAdjust="spacingAndGlyphs" transform="translate(66.1,439.4) rotate(-90)">Acrolein-PE</text>
<text class="pc" x="141.2" y="412.7" font-size="10.8" text-anchor="middle">3.3%</text>
<text class="pc" x="144.0" y="430.7" font-size="10.8" text-anchor="middle">38.4%</text>
<path transform="translate(0,.5)" d="M0 0m223 420h1m12 5h1m1 5h1m-31 2h1m31 0h1m-16 1h1m6 0h1m5 2h1m11 0h1m-38 1h1m35 1h1m-24 1h1m6 0h1m5 0h1m-29 1h1m10 0h1m16 0h1m5 0h1m-29 1h1m18 0h1m6 0h1m-20 1h1m29 0h1m-35 1h1m0 0h1m0 0h1m4 1h1m12 1h1m4 0h1m-21 1h1m12 0h1m-17 1h1m7 0h1m-11 1h1m12 0h1m7 0h1m3 0h1m-38 1h1m3 0h1m4 0h1m8 1h1m24 0h1m-50 1h1m5 0h1m4 0h1m6 0h1m2 0h1m13 0h1m14 0h1m-46 1h1m2 0h1m3 0h1m13 0h1m3 0h1m1 0h1m4 0h1m0 0h1m15 0h1m-56 1h1m5 0h1m7 0h1m0 0h1m0 0h1m3 0h1m0 0h1m6 0h1m1 0h1m-28 1h1m3 0h1m2 0h1m3 0h1m1 0h1m0 0h1m1 0h1m0 0h1m1 0h1m1 0h1m1 0h1m3 0h1m2 0h1m3 0h1m4 0h1m4 0h1m-43 1h1m1 0h1m5 0h1m0 0h1m0 0h1m3 0h1m7 0h1m1 0h1m0 0h1m0 0h1m1 0h1m1 0h1m2 0h1m3 0h1m5 0h1m0 0h1m13 0h1m-58 1h1m0 0h1m0 0h1m0 0h1m0 0h1m1 0h1m0 0h1m0 0h1m1 0h1m0 0h1m1 0h1m1 0h1m1 0h1m0 0h1m0 0h1m0 0h1m1 0h1m0 0h1m1 0h1m0 0h1m0 0h1m1 0h1m1 0h1m0 0h1m0 0h1m1 0h1m-38 1h1m1 0h1m0 0h1m1 0h1m1 0h1m0 0h1m1 0h1m0 0h1m0 0h1m0 0h1m0 0h1m1 0h1m2 0h1m0 0h1m0 0h1m1 0h1m1 0h1m0 0h1m1 0h1m1 0h1m5 0h1m12 0h1m-53 1h1m0 0h1m0 0h1m2 0h1m0 0h1m0 0h1m0 0h1m0 0h1m0 0h1m0 0h1m0 0h1m0 0h1m0 0h1m0 0h1m0 0h1m0 0h1m0 0h1m1 0h1m0 0h1m1 0h1m0 0h1m0 0h1m2 0h1m2 0h1m0 0h1m2 0h1m0 0h1m1 0h1m7 0h1m0 0h1m1 0h1m2 0h1m5 0h1m-58 1h1m2 0h1m1 0h1m0 0h1m0 0h1m0 0h1m0 0h1m0 0h1m0 0h1m0 0h1m0 0h1m0 0h1m0 0h1m0 0h1m0 0h1m0 0h1m0 0h1m0 0h1m0 0h1m0 0h1m0 0h1m0 0h1m0 0h1m0 0h1m1 0h1m0 0h1m0 0h1m2 0h1m1 0h1m0 0h1m0 0h1m2 0h1m0 0h1m-44 1h1m0 0h1m2 0h1m0 0h1m0 0h1m1 0h1m0 0h1m0 0h1m0 0h1m1 0h1m0 0h1m0 0h1m0 0h1m0 0h1m0 0h1m0 0h1m0 0h1m0 0h1m0 0h1m0 0h1m0 0h1m0 0h1m0 0h1m0 0h1m0 0h1m0 0h1m0 0h1m1 0h1m2 0h1m0 0h1m0 0h1m1 0h1m1 0h1m0 0h1m2 0h1m0 0h1m0 0h1m0 0h1m0 0h1m-49 1h1m0 0h1m0 0h1m0 0h1m0 0h1m0 0h1m0 0h1m0 0h1m0 0h1m0 0h1m0 0h1m0 0h1m0 0h1m0 0h1m0 0h1m0 0h1m0 0h1m0 0h1m0 0h1m0 0h1m0 0h1m0 0h1m0 0h1m0 0h1m0 0h1m0 0h1m0 0h1m0 0h1m0 0h1m0 0h1m0 0h1m0 0h1m0 0h1m0 0h1m0 0h1m1 0h1m0 0h1m0 0h1m2 0h1m0 0h1m4 0h1m5 0h1m-55 1h1m0 0h1m0 0h1m0 0h1m0 0h1m0 0h1m0 0h1m0 0h1m0 0h1m0 0h1m0 0h1m0 0h1m0 0h1m0 0h1m0 0h1m0 0h1m0 0h1m0 0h1m0 0h1m0 0h1m0 0h1m0 0h1m0 0h1m0 0h1m1 0h1m0 0h1m0 0h1m0 0h1m0 0h1m0 0h1m0 0h1m0 0h1m0 0h1m1 0h1m1 0h1m0 0h1m1 0h1m0 0h1m2 0h1m1 0h1m8 0h1m-52 1h1m0 0h1m0 0h1m0 0h1m0 0h1m0 0h1m0 0h1m0 0h1m0 0h1m0 0h1m0 0h1m0 0h1m0 0h1m0 0h1m0 0h1m0 0h1m0 0h1m0 0h1m0 0h1m0 0h1m0 0h1m0 0h1m0 0h1m0 0h1m0 0h1m0 0h1m1 0h1m0 0h1m2 0h1m0 0h1m0 0h1m0 0h1m0 0h1m1 0h1m0 0h1m6 0h1m2 0h1m-52 1h1m0 0h1m1 0h1m0 0h1m0 0h1m0 0h1m0 0h1m0 0h1m0 0h1m0 0h1m0 0h1m0 0h1m0 0h1m0 0h1m0 0h1m0 0h1m0 0h1m0 0h1m0 0h1m0 0h1m0 0h1m0 0h1m0 0h1m0 0h1m0 0h1m0 0h1m1 0h1m0 0h1m0 0h1m0 0h1m3 0h1m0 0h1m1 0h1m0 0h1m2 0h1m4 0h1m-48 1h1m0 0h1m0 0h1m0 0h1m0 0h1m0 0h1m0 0h1m0 0h1m0 0h1m0 0h1m0 0h1m0 0h1m0 0h1m0 0h1m0 0h1m0 0h1m0 0h1m0 0h1m0 0h1m0 0h1m0 0h1m0 0h1m0 0h1m0 0h1m0 0h1m0 0h1m0 0h1m0 0h1m0 0h1m0 0h1m0 0h1m0 0h1m3 0h1m2 0h1m0 0h1m0 0h1m5 0h1m4 0h1m0 0h1m-54 1h1m1 0h1m0 0h1m1 0h1m0 0h1m0 0h1m0 0h1m0 0h1m0 0h1m0 0h1m0 0h1m0 0h1m0 0h1m0 0h1m0 0h1m0 0h1m0 0h1m0 0h1m0 0h1m0 0h1m0 0h1m0 0h1m0 0h1m0 0h1m0 0h1m0 0h1m0 0h1m0 0h1m0 0h1m0 0h1m0 0h1m0 0h1m0 0h1m0 0h1m0 0h1m0 0h1m0 0h1m0 0h1m3 0h1m0 0h1m1 0h1m-47 1h1m0 0h1m0 0h1m0 0h1m0 0h1m0 0h1m0 0h1m0 0h1m0 0h1m0 0h1m0 0h1m0 0h1m0 0h1m0 0h1m0 0h1m0 0h1m0 0h1m0 0h1m0 0h1m0 0h1m0 0h1m0 0h1m0 0h1m0 0h1m0 0h1m0 0h1m1 0h1m0 0h1m2 0h1m0 0h1m0 0h1m4 0h1m4 0h1m1 0h1m4 0h1m-50 1h1m0 0h1m0 0h1m0 0h1m0 0h1m0 0h1m0 0h1m0 0h1m0 0h1m0 0h1m0 0h1m0 0h1m0 0h1m0 0h1m0 0h1m0 0h1m0 0h1m0 0h1m0 0h1m0 0h1m0 0h1m0 0h1m0 0h1m0 0h1m1 0h1m0 0h1m0 0h1m0 0h1m2 0h1m0 0h1m2 0h1m0 0h1m0 0h1m3 0h1m1 0h1m0 0h1m0 0h1m6 0h1m-52 1h1m1 0h1m0 0h1m0 0h1m0 0h1m0 0h1m0 0h1m0 0h1m0 0h1m0 0h1m0 0h1m0 0h1m0 0h1m0 0h1m0 0h1m0 0h1m0 0h1m0 0h1m0 0h1m0 0h1m0 0h1m0 0h1m0 0h1m0 0h1m2 0h1m0 0h1m0 0h1m2 0h1m0 0h1m1 0h1m0 0h1m0 0h1m0 0h1m0 0h1m4 0h1m0 0h1m2 0h1m-50 1h1m1 0h1m0 0h1m1 0h1m0 0h1m0 0h1m0 0h1m0 0h1m0 0h1m0 0h1m0 0h1m0 0h1m0 0h1m0 0h1m0 0h1m0 0h1m0 0h1m0 0h1m0 0h1m0 0h1m0 0h1m2 0h1m2 0h1m0 0h1m1 0h1m2 0h1m1 0h1m1 0h1m0 0h1m0 0h1m13 0h1m-54 1h1m2 0h1m0 0h1m0 0h1m0 0h1m0 0h1m1 0h1m0 0h1m0 0h1m0 0h1m0 0h1m0 0h1m1 0h1m0 0h1m1 0h1m0 0h1m0 0h1m3 0h1m0 0h1m1 0h1m2 0h1m1 0h1m2 0h1m8 0h1m3 0h1m0 0h1m-51 1h1m0 0h1m4 0h1m0 0h1m0 0h1m3 0h1m0 0h1m1 0h1m2 0h1m0 0h1m2 0h1m4 0h1m3 0h1m1 0h1m4 0h1m7 0h1m-47 1h1m0 0h1m3 0h1m6 0h1m0 0h1m1 0h1m0 0h1m0 0h1m0 0h1m1 0h1m2 0h1m5 0h1m13 0h1m4 0h1m-43 1h1m3 0h1m0 0h1m4 0h1m0 0h1m1 0h1m6 0h1m2 0h1m1 0h1m0 0h1m7 0h1m4 0h1m2 0h1m-27 1h1m1 0h1m2 0h1m4 0h1m1 0h1m9 0h1m-42 1h1m2 0h1m5 0h1m2 0h1m1 0h1m9 0h1m1 0h1" stroke="#000" stroke-width="1.15" filter="url(#b)" fill="none"/>
<g fill="none" stroke="#000" stroke-width="1.25">
<rect x="200.7" y="402.6" width="75.4" height="74.3"/>
<path d="M223.9 402.6V476.9M200.7 451.8H276.1M242.8 401.1V433.6M228.3 419.6H271.5" stroke-width="1.4"/>
<path d="M200.7 476.9h-3.6M200.7 476.9v3.4M200.7 458.3h-3.6M219.5 476.9v3.4M200.7 439.8h-3.6M238.4 476.9v3.4M200.7 421.2h-3.6M257.2 476.9v3.4M200.7 402.6h-3.6M276.1 476.9v3.4" stroke-width="1.1"/>
<path d="M200.7 471.3h-2.2M206.4 476.9v2.2M200.7 468.0h-2.2M209.7 476.9v2.2M200.7 465.7h-2.2M212.0 476.9v2.2M200.7 463.9h-2.2M213.9 476.9v2.2M200.7 462.4h-2.2M215.4 476.9v2.2M200.7 461.2h-2.2M216.6 476.9v2.2M200.7 460.1h-2.2M217.7 476.9v2.2M200.7 459.2h-2.2M218.7 476.9v2.2M200.7 452.7h-2.2M225.2 476.9v2.2M200.7 449.5h-2.2M228.5 476.9v2.2M200.7 447.1h-2.2M230.9 476.9v2.2M200.7 445.3h-2.2M232.7 476.9v2.2M200.7 443.9h-2.2M234.2 476.9v2.2M200.7 442.6h-2.2M235.5 476.9v2.2M200.7 441.6h-2.2M236.6 476.9v2.2M200.7 440.6h-2.2M237.5 476.9v2.2M200.7 434.2h-2.2M244.1 476.9v2.2M200.7 430.9h-2.2M247.4 476.9v2.2M200.7 428.6h-2.2M249.7 476.9v2.2M200.7 426.8h-2.2M251.6 476.9v2.2M200.7 425.3h-2.2M253.1 476.9v2.2M200.7 424.1h-2.2M254.3 476.9v2.2M200.7 423.0h-2.2M255.4 476.9v2.2M200.7 422.0h-2.2M256.4 476.9v2.2M200.7 415.6h-2.2M262.9 476.9v2.2M200.7 412.3h-2.2M266.2 476.9v2.2M200.7 410.0h-2.2M268.6 476.9v2.2M200.7 408.2h-2.2M270.4 476.9v2.2M200.7 406.7h-2.2M271.9 476.9v2.2M200.7 405.5h-2.2M273.2 476.9v2.2M200.7 404.4h-2.2M274.3 476.9v2.2M200.7 403.4h-2.2M275.2 476.9v2.2" stroke-width="0.8"/>
</g>
<text class="ar" x="195.8" y="489.3" font-size="7.4" stroke="#000" stroke-width="0.4">10<tspan dy="-4.6" dx="-0.3">0</tspan></text>
<text class="ar" font-size="7.4" stroke="#000" stroke-width="0.4" transform="translate(193.9,480.2) rotate(-90)">10<tspan dy="-4.6" dx="-0.3">0</tspan></text>
<text class="ar" x="214.2" y="489.3" font-size="7.4" stroke="#000" stroke-width="0.4">10<tspan dy="-4.6" dx="-0.3">1</tspan></text>
<text class="ar" font-size="7.4" stroke="#000" stroke-width="0.4" transform="translate(193.9,462.6) rotate(-90)">10<tspan dy="-4.6" dx="-0.3">1</tspan></text>
<text class="ar" x="232.6" y="489.3" font-size="7.4" stroke="#000" stroke-width="0.4">10<tspan dy="-4.6" dx="-0.3">2</tspan></text>
<text class="ar" font-size="7.4" stroke="#000" stroke-width="0.6" transform="translate(187.7,442.9) rotate(-90)">10</text>
<text class="ar" font-size="7.4" stroke="#000" stroke-width="0.4" transform="translate(193.9,444.9) rotate(-90)">10<tspan dy="-4.6" dx="-0.3">2</tspan></text>
<text class="ar" x="251.0" y="489.3" font-size="7.4" stroke="#000" stroke-width="0.4">10<tspan dy="-4.6" dx="-0.3">3</tspan></text>
<text class="ar" font-size="7.4" stroke="#000" stroke-width="0.4" transform="translate(193.9,427.2) rotate(-90)">10<tspan dy="-4.6" dx="-0.3">3</tspan></text>
<text class="ar" x="269.4" y="489.3" font-size="7.4" stroke="#000" stroke-width="0.4">10<tspan dy="-4.6" dx="-0.3">4</tspan></text>
<text class="ar" font-size="7.4" stroke="#000" stroke-width="0.4" transform="translate(193.9,409.6) rotate(-90)">10<tspan dy="-4.6" dx="-0.3">4</tspan></text>
<text class="ar" x="238.5" y="497.9" font-size="7.6" text-anchor="middle" stroke="#000" stroke-width="0.3">Annexin Y</text>
<text class="ar" font-size="7.6" text-anchor="middle" stroke="#000" stroke-width="0.3" textLength="44" lengthAdjust="spacingAndGlyphs" transform="translate(184.5,441.0) rotate(-90)">Acrolein-PE</text>
<text class="pc" x="257.7" y="413.6" font-size="10.8" text-anchor="middle">3.0%</text>
<text class="pc" x="260.0" y="431.7" font-size="10.8" text-anchor="middle">28.4%</text>
<path transform="translate(0,.5)" d="M0 0m350 419h1m5 3h1m-9 3h1m9 0h1m2 3h1m-10 2h1m-5 2h1m-5 1h1m-4 2h1m10 0h1m3 0h1m14 0h1m-20 1h1m-17 1h1m6 0h1m9 1h1m-3 1h1m3 0h1m-25 1h1m27 0h1m-10 1h1m-7 1h1m1 0h1m5 0h1m1 0h1m10 0h1m-20 1h1m5 0h1m1 0h1m7 0h1m-14 1h1m-3 1h1m2 0h1m8 0h1m7 0h1m6 0h1m-27 1h1m1 0h1m1 0h1m7 0h1m-19 1h1m6 0h1m8 0h1m-32 1h1m20 0h1m5 0h1m0 0h1m3 0h1m1 0h1m9 0h1m-38 1h1m2 0h1m3 0h1m0 0h1m2 0h1m7 0h1m1 0h1m8 0h1m-38 1h1m5 0h1m6 0h1m4 0h1m2 0h1m3 0h1m1 0h1m1 0h1m-36 1h1m3 0h1m4 0h1m1 0h1m4 0h1m2 0h1m1 0h1m0 0h1m0 0h1m4 0h1m1 0h1m1 0h1m0 0h1m2 0h1m2 0h1m11 0h1m-46 1h1m2 0h1m0 0h1m3 0h1m0 0h1m0 0h1m1 0h1m0 0h1m0 0h1m5 0h1m0 0h1m0 0h1m1 0h1m3 0h1m2 0h1m-37 1h1m3 0h1m1 0h1m1 0h1m2 0h1m2 0h1m2 0h1m0 0h1m0 0h1m3 0h1m0 0h1m1 0h1m1 0h1m0 0h1m0 0h1m1 0h1m0 0h1m10 0h1m9 0h1m-56 1h1m2 0h1m0 0h1m0 0h1m1 0h1m0 0h1m3 0h1m0 0h1m0 0h1m0 0h1m0 0h1m1 0h1m0 0h1m1 0h1m0 0h1m1 0h1m0 0h1m1 0h1m1 0h1m0 0h1m0 0h1m0 0h1m0 0h1m1 0h1m1 0h1m6 0h1m-45 1h1m0 0h1m0 0h1m1 0h1m0 0h1m0 0h1m0 0h1m0 0h1m1 0h1m0 0h1m0 0h1m0 0h1m1 0h1m0 0h1m0 0h1m0 0h1m0 0h1m0 0h1m1 0h1m0 0h1m0 0h1m0 0h1m1 0h1m0 0h1m0 0h1m0 0h1m1 0h1m0 0h1m1 0h1m0 0h1m6 0h1m15 0h1m-62 1h1m0 0h1m2 0h1m0 0h1m1 0h1m0 0h1m0 0h1m0 0h1m0 0h1m0 0h1m0 0h1m0 0h1m0 0h1m0 0h1m1 0h1m0 0h1m0 0h1m0 0h1m0 0h1m0 0h1m0 0h1m0 0h1m0 0h1m0 0h1m0 0h1m0 0h1m0 0h1m1 0h1m1 0h1m0 0h1m0 0h1m1 0h1m0 0h1m1 0h1m2 0h1m0 0h1m5 0h1m2 0h1m-56 1h1m3 0h1m0 0h1m0 0h1m0 0h1m0 0h1m0 0h1m0 0h1m0 0h1m0 0h1m0 0h1m0 0h1m0 0h1m0 0h1m0 0h1m0 0h1m0 0h1m0 0h1m0 0h1m0 0h1m0 0h1m1 0h1m0 0h1m1 0h1m0 0h1m0 0h1m0 0h1m0 0h1m1 0h1m0 0h1m0 0h1m0 0h1m0 0h1m0 0h1m0 0h1m1 0h1m0 0h1m0 0h1m0 0h1m2 0h1m1 0h1m-50 1h1m1 0h1m1 0h1m0 0h1m0 0h1m0 0h1m0 0h1m0 0h1m0 0h1m0 0h1m0 0h1m0 0h1m0 0h1m0 0h1m0 0h1m0 0h1m0 0h1m0 0h1m0 0h1m0 0h1m0 0h1m0 0h1m0 0h1m0 0h1m0 0h1m0 0h1m0 0h1m0 0h1m0 0h1m0 0h1m0 0h1m0 0h1m1 0h1m1 0h1m0 0h1m1 0h1m0 0h1m0 0h1m0 0h1m1 0h1m1 0h1m-48 1h1m1 0h1m0 0h1m0 0h1m0 0h1m0 0h1m0 0h1m0 0h1m0 0h1m0 0h1m0 0h1m0 0h1m0 0h1m0 0h1m0 0h1m0 0h1m0 0h1m0 0h1m0 0h1m0 0h1m0 0h1m0 0h1m0 0h1m0 0h1m0 0h1m0 0h1m0 0h1m0 0h1m0 0h1m0 0h1m0 0h1m0 0h1m0 0h1m0 0h1m1 0h1m0 0h1m1 0h1m0 0h1m0 0h1m0 0h1m0 0h1m3 0h1m3 0h1m1 0h1m6 0h1m-61 1h1m0 0h1m0 0h1m0 0h1m0 0h1m0 0h1m0 0h1m0 0h1m0 0h1m0 0h1m0 0h1m0 0h1m0 0h1m0 0h1m0 0h1m0 0h1m0 0h1m0 0h1m0 0h1m0 0h1m0 0h1m0 0h1m0 0h1m0 0h1m0 0h1m0 0h1m0 0h1m0 0h1m0 0h1m0 0h1m0 0h1m0 0h1m0 0h1m0 0h1m0 0h1m1 0h1m0 0h1m0 0h1m1 0h1m0 0h1m0 0h1m0 0h1m0 0h1m2 0h1m3 0h1m1 0h1m3 0h1m-58 1h1m0 0h1m0 0h1m0 0h1m0 0h1m1 0h1m0 0h1m0 0h1m0 0h1m0 0h1m0 0h1m0 0h1m0 0h1m0 0h1m0 0h1m0 0h1m0 0h1m0 0h1m0 0h1m0 0h1m0 0h1m0 0h1m0 0h1m0 0h1m0 0h1m0 0h1m0 0h1m0 0h1m0 0h1m0 0h1m0 0h1m0 0h1m0 0h1m0 0h1m0 0h1m0 0h1m2 0h1m0 0h1m1 0h1m0 0h1m0 0h1m4 0h1m2 0h1m4 0h1m-59 1h1m0 0h1m0 0h1m0 0h1m0 0h1m0 0h1m0 0h1m0 0h1m0 0h1m0 0h1m0 0h1m0 0h1m0 0h1m0 0h1m0 0h1m0 0h1m0 0h1m0 0h1m0 0h1m0 0h1m0 0h1m0 0h1m0 0h1m0 0h1m0 0h1m0 0h1m0 0h1m0 0h1m0 0h1m0 0h1m0 0h1m0 0h1m0 0h1m0 0h1m1 0h1m0 0h1m0 0h1m2 0h1m0 0h1m0 0h1m1 0h1m0 0h1m0 0h1m4 0h1m4 0h1m-56 1h1m1 0h1m0 0h1m0 0h1m0 0h1m0 0h1m0 0h1m0 0h1m0 0h1m0 0h1m0 0h1m0 0h1m0 0h1m0 0h1m0 0h1m0 0h1m0 0h1m0 0h1m0 0h1m0 0h1m0 0h1m0 0h1m0 0h1m0 0h1m0 0h1m0 0h1m0 0h1m0 0h1m0 0h1m0 0h1m0 0h1m0 0h1m0 0h1m0 0h1m0 0h1m0 0h1m0 0h1m0 0h1m0 0h1m0 0h1m0 0h1m0 0h1m0 0h1m1 0h1m1 0h1m3 0h1m-52 1h1m0 0h1m0 0h1m0 0h1m0 0h1m1 0h1m0 0h1m0 0h1m0 0h1m0 0h1m0 0h1m0 0h1m0 0h1m0 0h1m0 0h1m0 0h1m0 0h1m0 0h1m0 0h1m0 0h1m0 0h1m0 0h1m0 0h1m0 0h1m0 0h1m0 0h1m0 0h1m0 0h1m0 0h1m0 0h1m0 0h1m0 0h1m0 0h1m0 0h1m0 0h1m0 0h1m0 0h1m1 0h1m0 0h1m0 0h1m0 0h1m5 0h1m-45 1h1m0 0h1m0 0h1m0 0h1m0 0h1m0 0h1m0 0h1m0 0h1m0 0h1m0 0h1m0 0h1m0 0h1m0 0h1m0 0h1m0 0h1m0 0h1m0 0h1m0 0h1m0 0h1m0 0h1m0 0h1m0 0h1m0 0h1m0 0h1m0 0h1m0 0h1m0 0h1m0 0h1m1 0h1m0 0h1m0 0h1m1 0h1m0 0h1m0 0h1m0 0h1m0 0h1m8 0h1m-49 1h1m1 0h1m0 0h1m0 0h1m0 0h1m0 0h1m0 0h1m0 0h1m0 0h1m0 0h1m0 0h1m0 0h1m0 0h1m0 0h1m1 0h1m0 0h1m0 0h1m0 0h1m0 0h1m0 0h1m0 0h1m0 0h1m0 0h1m0 0h1m0 0h1m1 0h1m0 0h1m0 0h1m0 0h1m0 0h1m0 0h1m0 0h1m4 0h1m1 0h1m3 0h1m-46 1h1m0 0h1m0 0h1m0 0h1m0 0h1m0 0h1m0 0h1m1 0h1m0 0h1m0 0h1m0 0h1m0 0h1m0 0h1m0 0h1m0 0h1m0 0h1m0 0h1m0 0h1m0 0h1m0 0h1m0 0h1m0 0h1m0 0h1m0 0h1m0 0h1m0 0h1m0 0h1m1 0h1m1 0h1m0 0h1m0 0h1m0 0h1m0 0h1m0 0h1m0 0h1m1 0h1m5 0h1m-48 1h1m1 0h1m2 0h1m0 0h1m0 0h1m0 0h1m1 0h1m0 0h1m0 0h1m0 0h1m0 0h1m1 0h1m0 0h1m0 0h1m1 0h1m0 0h1m0 0h1m0 0h1m0 0h1m0 0h1m0 0h1m0 0h1m0 0h1m0 0h1m0 0h1m1 0h1m1 0h1m4 0h1m0 0h1m1 0h1m0 0h1m0 0h1m0 0h1m4 0h1m-44 1h1m0 0h1m0 0h1m1 0h1m0 0h1m0 0h1m0 0h1m0 0h1m2 0h1m0 0h1m0 0h1m1 0h1m0 0h1m0 0h1m0 0h1m3 0h1m0 0h1m1 0h1m2 0h1m1 0h1m0 0h1m2 0h1m2 0h1m0 0h1m2 0h1m0 0h1m-48 1h1m1 0h1m2 0h1m0 0h1m0 0h1m0 0h1m2 0h1m0 0h1m0 0h1m0 0h1m2 0h1m0 0h1m1 0h1m1 0h1m2 0h1m1 0h1m0 0h1m0 0h1m0 0h1m2 0h1m1 0h1m4 0h1m-41 1h1m5 0h1m0 0h1m0 0h1m2 0h1m0 0h1m0 0h1m3 0h1m2 0h1m1 0h1m0 0h1m0 0h1m0 0h1m1 0h1m3 0h1m3 0h1m1 0h1m2 0h1m-29 1h1m2 0h1m0 0h1m3 0h1m0 0h1m0 0h1m0 0h1m1 0h1m1 0h1m2 0h1m4 0h1m0 0h1m-28 1h1m5 0h1m10 0h1m3 0h1m0 0h1m2 0h1m3 0h1m-41 1h1m22 0h1m0 0h1m3 0h1m1 0h1m9 0h1m-37 1h1m13 0h1m9 0h1m3 0h1m13 0h1" stroke="#000" stroke-width="1.15" filter="url(#b)" fill="none"/>
<g fill="none" stroke="#000" stroke-width="1.25">
<rect x="318.0" y="402.6" width="75.4" height="74.3"/>
<path d="M341.4 402.6V476.9M318.0 451.6H393.4M360.4 401.3V432.8M346.2 419.6H389.6" stroke-width="1.4"/>
<path d="M318.0 476.9h-3.6M318.0 476.9v3.4M318.0 458.3h-3.6M336.9 476.9v3.4M318.0 439.8h-3.6M355.7 476.9v3.4M318.0 421.2h-3.6M374.6 476.9v3.4M318.0 402.6h-3.6M393.4 476.9v3.4" stroke-width="1.1"/>
<path d="M318.0 471.3h-2.2M323.7 476.9v2.2M318.0 468.0h-2.2M327.0 476.9v2.2M318.0 465.7h-2.2M329.3 476.9v2.2M318.0 463.9h-2.2M331.2 476.9v2.2M318.0 462.4h-2.2M332.7 476.9v2.2M318.0 461.2h-2.2M333.9 476.9v2.2M318.0 460.1h-2.2M335.0 476.9v2.2M318.0 459.2h-2.2M336.0 476.9v2.2M318.0 452.7h-2.2M342.5 476.9v2.2M318.0 449.5h-2.2M345.8 476.9v2.2M318.0 447.1h-2.2M348.2 476.9v2.2M318.0 445.3h-2.2M350.0 476.9v2.2M318.0 443.9h-2.2M351.5 476.9v2.2M318.0 442.6h-2.2M352.8 476.9v2.2M318.0 441.6h-2.2M353.9 476.9v2.2M318.0 440.6h-2.2M354.8 476.9v2.2M318.0 434.2h-2.2M361.4 476.9v2.2M318.0 430.9h-2.2M364.7 476.9v2.2M318.0 428.6h-2.2M367.0 476.9v2.2M318.0 426.8h-2.2M368.9 476.9v2.2M318.0 425.3h-2.2M370.4 476.9v2.2M318.0 424.1h-2.2M371.6 476.9v2.2M318.0 423.0h-2.2M372.7 476.9v2.2M318.0 422.0h-2.2M373.7 476.9v2.2M318.0 415.6h-2.2M380.2 476.9v2.2M318.0 412.3h-2.2M383.5 476.9v2.2M318.0 410.0h-2.2M385.9 476.9v2.2M318.0 408.2h-2.2M387.7 476.9v2.2M318.0 406.7h-2.2M389.2 476.9v2.2M318.0 405.5h-2.2M390.5 476.9v2.2M318.0 404.4h-2.2M391.6 476.9v2.2M318.0 403.4h-2.2M392.5 476.9v2.2" stroke-width="0.8"/>
</g>
<text class="ar" x="313.7" y="488.9" font-size="7.4" stroke="#000" stroke-width="0.4">10<tspan dy="-4.6" dx="-0.3">0</tspan></text>
<text class="ar" font-size="7.4" stroke="#000" stroke-width="0.4" transform="translate(311.2,480.2) rotate(-90)">10<tspan dy="-4.6" dx="-0.3">0</tspan></text>
<text class="ar" x="331.4" y="488.9" font-size="7.4" stroke="#000" stroke-width="0.4">10<tspan dy="-4.6" dx="-0.3">1</tspan></text>
<text class="ar" font-size="7.4" stroke="#000" stroke-width="0.4" transform="translate(311.2,462.6) rotate(-90)">10<tspan dy="-4.6" dx="-0.3">1</tspan></text>
<text class="ar" x="349.1" y="488.9" font-size="7.4" stroke="#000" stroke-width="0.4">10<tspan dy="-4.6" dx="-0.3">2</tspan></text>
<text class="ar" font-size="7.4" stroke="#000" stroke-width="0.4" transform="translate(311.2,444.9) rotate(-90)">10<tspan dy="-4.6" dx="-0.3">2</tspan></text>
<text class="ar" x="366.8" y="488.9" font-size="7.4" stroke="#000" stroke-width="0.4">10<tspan dy="-4.6" dx="-0.3">3</tspan></text>
<text class="ar" font-size="7.4" stroke="#000" stroke-width="0.4" transform="translate(311.2,427.2) rotate(-90)">10<tspan dy="-4.6" dx="-0.3">3</tspan></text>
<text class="ar" x="384.5" y="488.9" font-size="7.4" stroke="#000" stroke-width="0.4">10<tspan dy="-4.6" dx="-0.3">4</tspan></text>
<text class="ar" font-size="7.4" stroke="#000" stroke-width="0.4" transform="translate(311.2,409.6) rotate(-90)">10<tspan dy="-4.6" dx="-0.3">4</tspan></text>
<text class="ar" x="355.8" y="497.9" font-size="7.6" text-anchor="middle" stroke="#000" stroke-width="0.3">Annexin Y</text>
<text class="ar" font-size="7.6" text-anchor="middle" stroke="#000" stroke-width="0.3" textLength="48" lengthAdjust="spacingAndGlyphs" transform="translate(301.8,439.4) rotate(-90)">Acrolein-PE</text>
<text class="pc" x="374.4" y="413.0" font-size="10.8" text-anchor="middle">2.9%</text>
<text class="pc" x="377.3" y="430.8" font-size="10.8" text-anchor="middle">36.7%</text>
<path transform="translate(0,.5)" d="M0 0m463 425h1m6 0h1m4 1h1m0 0h1m-16 1h1m-5 1h1m0 0h1m19 0h1m-12 2h1m7 0h1m-22 1h1m13 0h1m-6 2h1m3 0h1m5 0h1m-4 2h1m4 0h1m-16 1h1m8 0h1m2 0h1m-9 1h1m0 0h1m0 0h1m14 1h1m-34 1h1m7 0h1m8 0h1m-17 1h1m7 0h1m-16 1h1m23 0h1m2 0h1m5 0h1m0 0h1m4 0h1m-39 1h1m0 0h1m1 0h1m5 0h1m6 0h1m1 0h1m4 0h1m4 0h1m1 0h1m-27 1h1m3 0h1m0 0h1m1 0h1m5 0h1m-14 1h1m1 0h1m0 0h1m5 0h1m1 0h1m1 0h1m3 0h1m39 0h1m-64 1h1m9 0h1m0 0h1m2 0h1m1 0h1m3 0h1m3 0h1m2 0h1m2 0h1m-25 1h1m4 0h1m0 0h1m4 0h1m0 0h1m0 0h1m5 0h1m0 0h1m4 0h1m-29 1h1m4 0h1m1 0h1m1 0h1m0 0h1m0 0h1m1 0h1m2 0h1m1 0h1m0 0h1m1 0h1m2 0h1m0 0h1m-29 1h1m3 0h1m3 0h1m0 0h1m0 0h1m2 0h1m0 0h1m0 0h1m0 0h1m0 0h1m0 0h1m4 0h1m0 0h1m0 0h1m5 0h1m5 0h1m-37 1h1m1 0h1m0 0h1m0 0h1m3 0h1m5 0h1m0 0h1m0 0h1m3 0h1m0 0h1m4 0h1m0 0h1m18 0h1m-46 1h1m2 0h1m0 0h1m0 0h1m2 0h1m0 0h1m1 0h1m0 0h1m0 0h1m1 0h1m2 0h1m2 0h1m2 0h1m0 0h1m5 0h1m-25 1h1m1 0h1m0 0h1m0 0h1m0 0h1m0 0h1m0 0h1m0 0h1m0 0h1m0 0h1m0 0h1m0 0h1m0 0h1m2 0h1m2 0h1m1 0h1m1 0h1m6 0h1m-42 1h1m4 0h1m1 0h1m2 0h1m0 0h1m0 0h1m0 0h1m1 0h1m0 0h1m3 0h1m0 0h1m0 0h1m1 0h1m1 0h1m0 0h1m0 0h1m0 0h1m0 0h1m1 0h1m8 0h1m-44 1h1m1 0h1m0 0h1m0 0h1m1 0h1m2 0h1m0 0h1m1 0h1m1 0h1m0 0h1m0 0h1m0 0h1m0 0h1m1 0h1m1 0h1m0 0h1m0 0h1m1 0h1m1 0h1m0 0h1m1 0h1m1 0h1m1 0h1m-31 1h1m3 0h1m0 0h1m0 0h1m0 0h1m1 0h1m0 0h1m0 0h1m0 0h1m0 0h1m0 0h1m0 0h1m0 0h1m0 0h1m0 0h1m0 0h1m0 0h1m0 0h1m0 0h1m2 0h1m1 0h1m0 0h1m3 0h1m-36 1h1m1 0h1m1 0h1m0 0h1m1 0h1m0 0h1m0 0h1m0 0h1m0 0h1m0 0h1m0 0h1m0 0h1m0 0h1m1 0h1m0 0h1m0 0h1m1 0h1m0 0h1m0 0h1m0 0h1m0 0h1m1 0h1m1 0h1m2 0h1m5 0h1m2 0h1m0 0h1m0 0h1m-43 1h1m0 0h1m5 0h1m0 0h1m0 0h1m0 0h1m0 0h1m0 0h1m0 0h1m0 0h1m0 0h1m0 0h1m0 0h1m0 0h1m0 0h1m0 0h1m0 0h1m0 0h1m0 0h1m4 0h1m0 0h1m0 0h1m1 0h1m1 0h1m0 0h1m0 0h1m-36 1h1m0 0h1m0 0h1m0 0h1m0 0h1m0 0h1m0 0h1m0 0h1m0 0h1m0 0h1m0 0h1m0 0h1m0 0h1m0 0h1m0 0h1m0 0h1m0 0h1m0 0h1m0 0h1m0 0h1m0 0h1m0 0h1m0 0h1m0 0h1m1 0h1m1 0h1m0 0h1m0 0h1m0 0h1m0 0h1m1 0h1m2 0h1m8 0h1m7 0h1m-55 1h1m1 0h1m0 0h1m0 0h1m0 0h1m0 0h1m0 0h1m0 0h1m0 0h1m0 0h1m0 0h1m0 0h1m0 0h1m0 0h1m0 0h1m0 0h1m0 0h1m0 0h1m0 0h1m0 0h1m0 0h1m0 0h1m0 0h1m0 0h1m0 0h1m0 0h1m0 0h1m1 0h1m4 0h1m8 0h1m-46 1h1m3 0h1m0 0h1m0 0h1m0 0h1m0 0h1m0 0h1m0 0h1m0 0h1m0 0h1m0 0h1m0 0h1m0 0h1m0 0h1m0 0h1m0 0h1m0 0h1m0 0h1m0 0h1m0 0h1m0 0h1m0 0h1m0 0h1m0 0h1m0 0h1m2 0h1m0 0h1m0 0h1m3 0h1m0 0h1m7 0h1m-48 1h1m1 0h1m0 0h1m2 0h1m3 0h1m0 0h1m0 0h1m0 0h1m0 0h1m0 0h1m0 0h1m0 0h1m0 0h1m0 0h1m0 0h1m0 0h1m0 0h1m0 0h1m0 0h1m0 0h1m0 0h1m0 0h1m0 0h1m0 0h1m0 0h1m1 0h1m0 0h1m0 0h1m0 0h1m0 0h1m0 0h1m2 0h1m-40 1h1m2 0h1m0 0h1m1 0h1m0 0h1m0 0h1m0 0h1m0 0h1m0 0h1m0 0h1m0 0h1m0 0h1m0 0h1m0 0h1m0 0h1m0 0h1m0 0h1m0 0h1m0 0h1m0 0h1m0 0h1m0 0h1m0 0h1m0 0h1m0 0h1m1 0h1m1 0h1m1 0h1m0 0h1m3 0h1m10 0h1m0 0h1m-49 1h1m1 0h1m1 0h1m0 0h1m0 0h1m0 0h1m0 0h1m0 0h1m0 0h1m0 0h1m0 0h1m0 0h1m0 0h1m0 0h1m0 0h1m0 0h1m0 0h1m0 0h1m0 0h1m0 0h1m0 0h1m1 0h1m0 0h1m4 0h1m5 0h1m11 0h1m-49 1h1m0 0h1m0 0h1m0 0h1m0 0h1m0 0h1m0 0h1m0 0h1m0 0h1m0 0h1m0 0h1m0 0h1m0 0h1m0 0h1m0 0h1m0 0h1m0 0h1m0 0h1m0 0h1m0 0h1m0 0h1m0 0h1m0 0h1m0 0h1m0 0h1m1 0h1m1 0h1m0 0h1m0 0h1m1 0h1m0 0h1m0 0h1m1 0h1m3 0h1m0 0h1m6 0h1m-50 1h1m1 0h1m0 0h1m0 0h1m0 0h1m0 0h1m0 0h1m0 0h1m0 0h1m0 0h1m0 0h1m0 0h1m0 0h1m0 0h1m0 0h1m0 0h1m0 0h1m0 0h1m0 0h1m0 0h1m0 0h1m0 0h1m0 0h1m1 0h1m7 0h1m-32 1h1m1 0h1m0 0h1m0 0h1m0 0h1m0 0h1m0 0h1m0 0h1m0 0h1m0 0h1m0 0h1m0 0h1m0 0h1m0 0h1m0 0h1m0 0h1m0 0h1m0 0h1m0 0h1m0 0h1m0 0h1m0 0h1m0 0h1m1 0h1m1 0h1m4 0h1m0 0h1m6 0h1m-41 1h1m1 0h1m1 0h1m0 0h1m0 0h1m0 0h1m0 0h1m0 0h1m0 0h1m0 0h1m0 0h1m0 0h1m0 0h1m0 0h1m0 0h1m0 0h1m0 0h1m0 0h1m0 0h1m0 0h1m0 0h1m0 0h1m0 0h1m2 0h1m3 0h1m0 0h1m1 0h1m-37 1h1m2 0h1m0 0h1m3 0h1m0 0h1m0 0h1m0 0h1m0 0h1m0 0h1m0 0h1m0 0h1m0 0h1m0 0h1m0 0h1m0 0h1m0 0h1m0 0h1m1 0h1m0 0h1m0 0h1m0 0h1m1 0h1m2 0h1m2 0h1m1 0h1m-36 1h1m2 0h1m0 0h1m0 0h1m0 0h1m1 0h1m0 0h1m0 0h1m0 0h1m0 0h1m0 0h1m0 0h1m0 0h1m0 0h1m0 0h1m1 0h1m0 0h1m0 0h1m1 0h1m8 0h1m3 0h1m3 0h1m-44 1h1m3 0h1m0 0h1m0 0h1m0 0h1m0 0h1m0 0h1m0 0h1m0 0h1m1 0h1m0 0h1m0 0h1m0 0h1m0 0h1m1 0h1m0 0h1m0 0h1m0 0h1m0 0h1m0 0h1m0 0h1m0 0h1m1 0h1m1 0h1m4 0h1m4 0h1m2 0h1m3 0h1m-47 1h1m1 0h1m1 0h1m0 0h1m0 0h1m0 0h1m0 0h1m0 0h1m0 0h1m1 0h1m0 0h1m0 0h1m2 0h1m1 0h1m3 0h1m0 0h1m2 0h1m2 0h1m1 0h1m-33 1h1m1 0h1m2 0h1m0 0h1m2 0h1m0 0h1m0 0h1m0 0h1m0 0h1m0 0h1m0 0h1m0 0h1m0 0h1m0 0h1m4 0h1m1 0h1m0 0h1m11 0h1m-39 1h1m1 0h1m1 0h1m1 0h1m0 0h1m0 0h1m0 0h1m2 0h1m2 0h1m0 0h1m0 0h1m0 0h1m0 0h1m0 0h1m0 0h1m0 0h1m1 0h1m-25 1h1m0 0h1m4 0h1m0 0h1m0 0h1m0 0h1m0 0h1m1 0h1m5 0h1m0 0h1m0 0h1m1 0h1m9 0h1m-30 1h1m4 0h1m4 0h1m0 0h1m1 0h1m4 0h1m0 0h1m0 0h1m1 0h1m0 0h1m8 0h1m-35 1h1m0 0h1m0 0h1m6 0h1m0 0h1m3 0h1m4 0h1m2 0h1m-3 1h1" stroke="#000" stroke-width="1.15" filter="url(#b)" fill="none"/>
<g fill="none" stroke="#000" stroke-width="1.25">
<rect x="435.3" y="402.6" width="79.1" height="74.3"/>
<path d="M459.5 402.6V476.9M435.3 451.6H514.4M480.8 402.6V433.8M464.6 418.2H510.0" stroke-width="1.4"/>
<path d="M435.3 476.9h-3.6M435.3 476.9v3.4M435.3 458.3h-3.6M455.1 476.9v3.4M435.3 439.8h-3.6M474.9 476.9v3.4M435.3 421.2h-3.6M494.6 476.9v3.4M435.3 402.6h-3.6M514.4 476.9v3.4" stroke-width="1.1"/>
<path d="M435.3 471.3h-2.2M441.3 476.9v2.2M435.3 468.0h-2.2M444.7 476.9v2.2M435.3 465.7h-2.2M447.2 476.9v2.2M435.3 463.9h-2.2M449.1 476.9v2.2M435.3 462.4h-2.2M450.7 476.9v2.2M435.3 461.2h-2.2M452.0 476.9v2.2M435.3 460.1h-2.2M453.2 476.9v2.2M435.3 459.2h-2.2M454.2 476.9v2.2M435.3 452.7h-2.2M461.0 476.9v2.2M435.3 449.5h-2.2M464.5 476.9v2.2M435.3 447.1h-2.2M467.0 476.9v2.2M435.3 445.3h-2.2M468.9 476.9v2.2M435.3 443.9h-2.2M470.5 476.9v2.2M435.3 442.6h-2.2M471.8 476.9v2.2M435.3 441.6h-2.2M472.9 476.9v2.2M435.3 440.6h-2.2M473.9 476.9v2.2M435.3 434.2h-2.2M480.8 476.9v2.2M435.3 430.9h-2.2M484.3 476.9v2.2M435.3 428.6h-2.2M486.8 476.9v2.2M435.3 426.8h-2.2M488.7 476.9v2.2M435.3 425.3h-2.2M490.2 476.9v2.2M435.3 424.1h-2.2M491.6 476.9v2.2M435.3 423.0h-2.2M492.7 476.9v2.2M435.3 422.0h-2.2M493.7 476.9v2.2M435.3 415.6h-2.2M500.6 476.9v2.2M435.3 412.3h-2.2M504.1 476.9v2.2M435.3 410.0h-2.2M506.5 476.9v2.2M435.3 408.2h-2.2M508.4 476.9v2.2M435.3 406.7h-2.2M510.0 476.9v2.2M435.3 405.5h-2.2M511.3 476.9v2.2M435.3 404.4h-2.2M512.5 476.9v2.2M435.3 403.4h-2.2M513.5 476.9v2.2" stroke-width="0.8"/>
</g>
<text class="ar" x="432.4" y="490.5" font-size="7.4" stroke="#000" stroke-width="0.4">10<tspan dy="-4.6" dx="-0.3">0</tspan></text>
<text class="ar" font-size="7.4" stroke="#000" stroke-width="0.4" transform="translate(428.5,480.2) rotate(-90)">10<tspan dy="-4.6" dx="-0.3">0</tspan></text>
<text class="ar" x="452.4" y="490.5" font-size="7.4" stroke="#000" stroke-width="0.4">10<tspan dy="-4.6" dx="-0.3">1</tspan></text>
<text class="ar" font-size="7.4" stroke="#000" stroke-width="0.4" transform="translate(428.5,462.6) rotate(-90)">10<tspan dy="-4.6" dx="-0.3">1</tspan></text>
<text class="ar" x="472.4" y="490.5" font-size="7.4" stroke="#000" stroke-width="0.4">10<tspan dy="-4.6" dx="-0.3">2</tspan></text>
<text class="ar" font-size="7.4" stroke="#000" stroke-width="0.4" transform="translate(428.5,444.9) rotate(-90)">10<tspan dy="-4.6" dx="-0.3">2</tspan></text>
<text class="ar" x="492.4" y="490.5" font-size="7.4" stroke="#000" stroke-width="0.4">10<tspan dy="-4.6" dx="-0.3">3</tspan></text>
<text class="ar" font-size="7.4" stroke="#000" stroke-width="0.4" transform="translate(428.5,427.2) rotate(-90)">10<tspan dy="-4.6" dx="-0.3">3</tspan></text>
<text class="ar" x="512.4" y="490.5" font-size="7.4" stroke="#000" stroke-width="0.4">10<tspan dy="-4.6" dx="-0.3">4</tspan></text>
<text class="ar" font-size="7.4" stroke="#000" stroke-width="0.4" transform="translate(428.5,409.6) rotate(-90)">10<tspan dy="-4.6" dx="-0.3">4</tspan></text>
<text class="ar" x="473.1" y="498.7" font-size="7.6" text-anchor="middle" stroke="#000" stroke-width="0.3">Annexin Y</text>
<text class="ar" font-size="7.6" text-anchor="middle" stroke="#000" stroke-width="0.3" textLength="48" lengthAdjust="spacingAndGlyphs" transform="translate(419.1,439.4) rotate(-90)">Acrolein-PE</text>
<text class="pc" x="495.7" y="413.0" font-size="10.8" text-anchor="middle">3.5%</text>
<text class="pc" x="498.2" y="431.6" font-size="10.8" text-anchor="middle">12.8%</text>
</svg>
</body></html>
